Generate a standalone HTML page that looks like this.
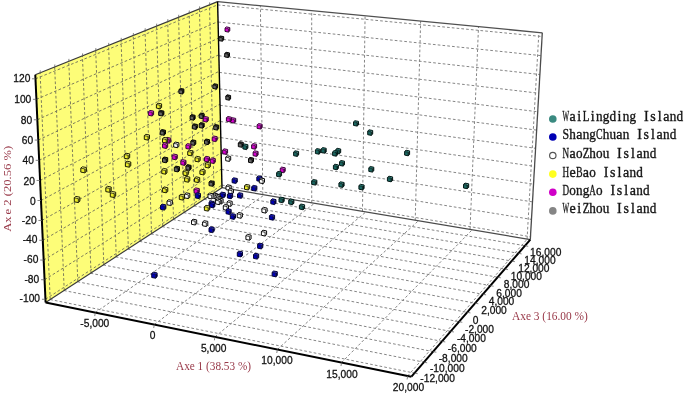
<!DOCTYPE html>
<html><head><meta charset="utf-8"><style>
html,body{margin:0;padding:0;background:#fff;}
svg{display:block;will-change:transform;}
.g{stroke:#858585;stroke-width:1;stroke-dasharray:2.7 2.1;fill:none;}
.gy{stroke:#7d7d5a;stroke-width:1;stroke-dasharray:2.7 2.1;fill:none;}
.e1{stroke:#3a3a3a;stroke-width:1.15;}
.e2{stroke:#4a4a4a;stroke-width:1.3;}
.e3{stroke:#000;stroke-width:2;}
.e4{stroke:#505050;stroke-width:1.3;}
.e5{stroke:#000;stroke-width:1.4;}
.tk{stroke:#666;stroke-width:0.8;}
.t{font-family:"Liberation Sans",sans-serif;font-size:11.5px;fill:#111;stroke:#111;stroke-width:0.3px;}
.at{font-family:"Liberation Serif",serif;font-size:12px;fill:#983848;}
.lgs{font-family:"Liberation Serif",serif;font-size:14px;fill:#151515;stroke:#151515;stroke-width:0.35px;}
.lg{font-family:"Liberation Mono",monospace;font-size:14.5px;fill:#151515;}
</style></head><body>
<svg width="685" height="394" viewBox="0 0 685 394">
<polygon points="45.60,302.50 35.30,74.80 217.60,1.60 222.00,187.70" fill="#fdfd78"/>
<line x1="50.22" y1="299.49" x2="40.10" y2="72.87" class="gy"/>
<line x1="50.16" y1="299.53" x2="414.52" y2="373.10" class="g"/>
<line x1="64.23" y1="290.37" x2="54.65" y2="67.03" class="gy"/>
<line x1="64.01" y1="290.52" x2="423.98" y2="362.19" class="g"/>
<line x1="77.83" y1="281.53" x2="68.75" y2="61.37" class="gy"/>
<line x1="77.47" y1="281.76" x2="433.16" y2="351.61" class="g"/>
<line x1="91.02" y1="272.94" x2="82.42" y2="55.88" class="gy"/>
<line x1="90.56" y1="273.24" x2="442.06" y2="341.35" class="g"/>
<line x1="103.83" y1="264.61" x2="95.69" y2="50.55" class="gy"/>
<line x1="103.30" y1="264.95" x2="450.70" y2="331.38" class="g"/>
<line x1="116.27" y1="256.51" x2="108.56" y2="45.38" class="gy"/>
<line x1="115.70" y1="256.88" x2="459.09" y2="321.71" class="g"/>
<line x1="128.37" y1="248.64" x2="121.07" y2="40.36" class="gy"/>
<line x1="127.77" y1="249.02" x2="467.25" y2="312.31" class="g"/>
<line x1="140.13" y1="240.98" x2="133.22" y2="35.48" class="gy"/>
<line x1="139.53" y1="241.37" x2="475.17" y2="303.17" class="g"/>
<line x1="151.56" y1="233.54" x2="145.03" y2="30.74" class="gy"/>
<line x1="150.99" y1="233.91" x2="482.88" y2="294.28" class="g"/>
<line x1="162.69" y1="226.30" x2="156.52" y2="26.13" class="gy"/>
<line x1="162.16" y1="226.65" x2="490.38" y2="285.64" class="g"/>
<line x1="173.52" y1="219.25" x2="167.69" y2="21.64" class="gy"/>
<line x1="173.04" y1="219.56" x2="497.67" y2="277.22" class="g"/>
<line x1="184.07" y1="212.39" x2="178.56" y2="17.28" class="gy"/>
<line x1="183.66" y1="212.65" x2="504.77" y2="269.04" class="g"/>
<line x1="194.34" y1="205.70" x2="189.14" y2="13.03" class="gy"/>
<line x1="194.02" y1="205.91" x2="511.69" y2="261.06" class="g"/>
<line x1="204.35" y1="199.19" x2="199.44" y2="8.89" class="gy"/>
<line x1="204.13" y1="199.33" x2="518.42" y2="253.29" class="g"/>
<line x1="214.11" y1="192.84" x2="209.48" y2="4.86" class="gy"/>
<line x1="214.00" y1="192.90" x2="524.99" y2="245.72" class="g"/>
<line x1="45.45" y1="299.28" x2="221.94" y2="185.05" class="gy"/>
<line x1="221.94" y1="185.12" x2="530.47" y2="236.75" class="g"/>
<line x1="44.57" y1="279.71" x2="221.56" y2="168.99" class="gy"/>
<line x1="221.57" y1="169.42" x2="531.47" y2="219.39" class="g"/>
<line x1="43.68" y1="260.05" x2="221.18" y2="152.86" class="gy"/>
<line x1="221.19" y1="153.58" x2="532.49" y2="201.87" class="g"/>
<line x1="42.79" y1="240.29" x2="220.79" y2="136.67" class="gy"/>
<line x1="220.82" y1="137.61" x2="533.52" y2="184.18" class="g"/>
<line x1="41.89" y1="220.44" x2="220.41" y2="120.41" class="gy"/>
<line x1="220.44" y1="121.52" x2="534.55" y2="166.33" class="g"/>
<line x1="40.99" y1="200.50" x2="220.02" y2="104.10" class="gy"/>
<line x1="220.05" y1="105.28" x2="535.60" y2="148.31" class="g"/>
<line x1="40.08" y1="180.46" x2="219.64" y2="87.72" class="gy"/>
<line x1="219.66" y1="88.91" x2="536.65" y2="130.12" class="g"/>
<line x1="39.17" y1="160.33" x2="219.25" y2="71.27" class="gy"/>
<line x1="219.27" y1="72.40" x2="537.72" y2="111.76" class="g"/>
<line x1="38.25" y1="140.09" x2="218.86" y2="54.77" class="gy"/>
<line x1="218.88" y1="55.75" x2="538.79" y2="93.23" class="g"/>
<line x1="37.33" y1="119.77" x2="218.47" y2="38.20" class="gy"/>
<line x1="218.48" y1="38.96" x2="539.88" y2="74.51" class="g"/>
<line x1="36.41" y1="99.34" x2="218.07" y2="21.56" class="gy"/>
<line x1="218.08" y1="22.03" x2="540.98" y2="55.62" class="g"/>
<line x1="35.48" y1="78.81" x2="217.68" y2="4.86" class="gy"/>
<line x1="217.68" y1="4.95" x2="542.08" y2="36.54" class="g"/>
<line x1="262.83" y1="194.57" x2="260.39" y2="5.71" class="g"/>
<line x1="95.31" y1="312.58" x2="264.46" y2="194.85" class="g"/>
<line x1="311.72" y1="202.80" x2="311.70" y2="10.64" class="g"/>
<line x1="154.30" y1="324.55" x2="314.62" y2="203.29" class="g"/>
<line x1="362.48" y1="211.35" x2="365.08" y2="15.77" class="g"/>
<line x1="214.96" y1="336.85" x2="365.93" y2="211.93" class="g"/>
<line x1="415.21" y1="220.23" x2="420.64" y2="21.11" class="g"/>
<line x1="277.36" y1="349.51" x2="418.44" y2="220.77" class="g"/>
<line x1="470.03" y1="229.45" x2="478.52" y2="26.67" class="g"/>
<line x1="341.58" y1="362.54" x2="472.18" y2="229.82" class="g"/>
<line x1="527.07" y1="239.06" x2="538.88" y2="32.47" class="g"/>
<line x1="407.68" y1="375.95" x2="527.21" y2="239.08" class="g"/>
<line x1="35.30" y1="74.80" x2="217.60" y2="1.60" class="e1"/>
<line x1="217.60" y1="1.60" x2="542.30" y2="32.80" class="e4"/>
<line x1="542.30" y1="32.80" x2="530.30" y2="239.60" class="e2"/>
<line x1="222.00" y1="187.70" x2="530.30" y2="239.60" class="e2"/>
<line x1="45.60" y1="302.50" x2="222.00" y2="187.70" class="e1"/>
<line x1="222.00" y1="187.70" x2="217.60" y2="1.60" class="e5"/>
<line x1="45.60" y1="302.50" x2="35.30" y2="74.80" class="e3"/>
<line x1="45.60" y1="302.50" x2="411.40" y2="376.70" class="e3"/>
<line x1="411.40" y1="376.70" x2="530.30" y2="239.60" class="e3"/>
<line x1="41.95" y1="299.28" x2="45.45" y2="299.28" class="tk"/>
<line x1="41.07" y1="279.71" x2="44.57" y2="279.71" class="tk"/>
<line x1="40.18" y1="260.05" x2="43.68" y2="260.05" class="tk"/>
<line x1="39.29" y1="240.29" x2="42.79" y2="240.29" class="tk"/>
<line x1="38.39" y1="220.44" x2="41.89" y2="220.44" class="tk"/>
<line x1="37.49" y1="200.50" x2="40.99" y2="200.50" class="tk"/>
<line x1="36.58" y1="180.46" x2="40.08" y2="180.46" class="tk"/>
<line x1="35.67" y1="160.33" x2="39.17" y2="160.33" class="tk"/>
<line x1="34.75" y1="140.09" x2="38.25" y2="140.09" class="tk"/>
<line x1="33.83" y1="119.77" x2="37.33" y2="119.77" class="tk"/>
<line x1="32.91" y1="99.34" x2="36.41" y2="99.34" class="tk"/>
<line x1="31.98" y1="78.81" x2="35.48" y2="78.81" class="tk"/>
<line x1="95.31" y1="312.58" x2="94.71" y2="316.08" class="tk"/>
<line x1="154.30" y1="324.55" x2="153.70" y2="328.05" class="tk"/>
<line x1="214.96" y1="336.85" x2="214.36" y2="340.35" class="tk"/>
<line x1="277.36" y1="349.51" x2="276.76" y2="353.01" class="tk"/>
<line x1="341.58" y1="362.54" x2="340.98" y2="366.04" class="tk"/>
<line x1="407.68" y1="375.95" x2="407.08" y2="379.45" class="tk"/>
<line x1="40.10" y1="72.87" x2="40.30" y2="70.37" class="tk"/>
<line x1="54.65" y1="67.03" x2="54.85" y2="64.53" class="tk"/>
<line x1="68.75" y1="61.37" x2="68.95" y2="58.87" class="tk"/>
<line x1="82.42" y1="55.88" x2="82.62" y2="53.38" class="tk"/>
<line x1="95.69" y1="50.55" x2="95.89" y2="48.05" class="tk"/>
<line x1="108.56" y1="45.38" x2="108.76" y2="42.88" class="tk"/>
<line x1="121.07" y1="40.36" x2="121.27" y2="37.86" class="tk"/>
<line x1="133.22" y1="35.48" x2="133.42" y2="32.98" class="tk"/>
<line x1="145.03" y1="30.74" x2="145.23" y2="28.24" class="tk"/>
<line x1="156.52" y1="26.13" x2="156.72" y2="23.63" class="tk"/>
<line x1="167.69" y1="21.64" x2="167.89" y2="19.14" class="tk"/>
<line x1="178.56" y1="17.28" x2="178.76" y2="14.78" class="tk"/>
<line x1="189.14" y1="13.03" x2="189.34" y2="10.53" class="tk"/>
<line x1="199.44" y1="8.89" x2="199.64" y2="6.39" class="tk"/>
<line x1="209.48" y1="4.86" x2="209.68" y2="2.36" class="tk"/>
<line x1="414.52" y1="373.10" x2="417.72" y2="373.70" class="tk"/>
<line x1="423.98" y1="362.19" x2="427.18" y2="362.79" class="tk"/>
<line x1="433.16" y1="351.61" x2="436.36" y2="352.21" class="tk"/>
<line x1="442.06" y1="341.35" x2="445.26" y2="341.95" class="tk"/>
<line x1="450.70" y1="331.38" x2="453.90" y2="331.98" class="tk"/>
<line x1="459.09" y1="321.71" x2="462.29" y2="322.31" class="tk"/>
<line x1="467.25" y1="312.31" x2="470.45" y2="312.91" class="tk"/>
<line x1="475.17" y1="303.17" x2="478.37" y2="303.77" class="tk"/>
<line x1="482.88" y1="294.28" x2="486.08" y2="294.88" class="tk"/>
<line x1="490.38" y1="285.64" x2="493.58" y2="286.24" class="tk"/>
<line x1="497.67" y1="277.22" x2="500.87" y2="277.82" class="tk"/>
<line x1="504.77" y1="269.04" x2="507.97" y2="269.64" class="tk"/>
<line x1="511.69" y1="261.06" x2="514.89" y2="261.66" class="tk"/>
<line x1="518.42" y1="253.29" x2="521.62" y2="253.89" class="tk"/>
<line x1="524.99" y1="245.72" x2="528.19" y2="246.32" class="tk"/>
<g><polygon points="225.0,31.4 228.4,32.1 228.4,28.7 225.0,28.1" fill="#d800d0"/><polygon points="228.4,32.1 229.8,30.9 229.8,27.6 228.4,28.7" fill="#680060"/><polygon points="225.0,28.1 228.4,28.7 229.8,27.6 226.4,26.9" fill="#f040f0"/><polygon points="225.0,31.4 228.4,32.1 229.8,30.9 229.8,27.6 226.4,26.9 225.0,28.1" fill="none" stroke="#300030" stroke-width="0.95"/><polyline points="225.0,28.1 228.4,28.7 228.4,32.1" fill="none" stroke="#300030" stroke-width="0.75"/></g>
<g><polygon points="218.9,40.6 222.3,41.2 222.3,37.8 218.9,37.2" fill="#646464"/><polygon points="222.3,41.2 223.7,40.0 223.7,36.6 222.3,37.8" fill="#0a0a0a"/><polygon points="218.9,37.2 222.3,37.8 223.7,36.6 220.3,36.0" fill="#2a2a2a"/><polygon points="218.9,40.6 222.3,41.2 223.7,40.0 223.7,36.6 220.3,36.0 218.9,37.2" fill="none" stroke="#000000" stroke-width="0.95"/><polyline points="218.9,37.2 222.3,37.8 222.3,41.2" fill="none" stroke="#000000" stroke-width="0.75"/></g>
<g><polygon points="224.7,56.9 228.1,57.5 228.1,54.1 224.7,53.5" fill="#646464"/><polygon points="228.1,57.5 229.5,56.3 229.5,52.9 228.1,54.1" fill="#0a0a0a"/><polygon points="224.7,53.5 228.1,54.1 229.5,52.9 226.1,52.3" fill="#2a2a2a"/><polygon points="224.7,56.9 228.1,57.5 229.5,56.3 229.5,52.9 226.1,52.3 224.7,53.5" fill="none" stroke="#000000" stroke-width="0.95"/><polyline points="224.7,53.5 228.1,54.1 228.1,57.5" fill="none" stroke="#000000" stroke-width="0.75"/></g>
<g><polygon points="353.5,125.4 357.1,126.1 357.1,122.6 353.5,121.9" fill="#1a6660"/><polygon points="357.1,126.1 358.5,124.9 358.5,121.4 357.1,122.6" fill="#062824"/><polygon points="353.5,121.9 357.1,122.6 358.5,121.4 354.9,120.7" fill="#2f8a82"/><polygon points="353.5,125.4 357.1,126.1 358.5,124.9 358.5,121.4 354.9,120.7 353.5,121.9" fill="none" stroke="#001412" stroke-width="0.95"/><polyline points="353.5,121.9 357.1,122.6 357.1,126.1" fill="none" stroke="#001412" stroke-width="0.75"/></g>
<g><polygon points="367.7,134.7 371.3,135.4 371.3,131.8 367.7,131.1" fill="#1a6660"/><polygon points="371.3,135.4 372.7,134.1 372.7,130.5 371.3,131.8" fill="#062824"/><polygon points="367.7,131.1 371.3,131.8 372.7,130.5 369.1,129.8" fill="#2f8a82"/><polygon points="367.7,134.7 371.3,135.4 372.7,134.1 372.7,130.5 369.1,129.8 367.7,131.1" fill="none" stroke="#001412" stroke-width="0.95"/><polyline points="367.7,131.1 371.3,131.8 371.3,135.4" fill="none" stroke="#001412" stroke-width="0.75"/></g>
<g><polygon points="212.8,88.4 216.2,89.1 216.2,85.6 212.8,84.9" fill="#646464"/><polygon points="216.2,89.1 217.6,87.9 217.6,84.4 216.2,85.6" fill="#0a0a0a"/><polygon points="212.8,84.9 216.2,85.6 217.6,84.4 214.2,83.7" fill="#2a2a2a"/><polygon points="212.8,88.4 216.2,89.1 217.6,87.9 217.6,84.4 214.2,83.7 212.8,84.9" fill="none" stroke="#000000" stroke-width="0.95"/><polyline points="212.8,84.9 216.2,85.6 216.2,89.1" fill="none" stroke="#000000" stroke-width="0.75"/></g>
<g><polygon points="225.8,99.5 229.2,100.2 229.2,96.7 225.8,96.0" fill="#646464"/><polygon points="229.2,100.2 230.6,99.0 230.6,95.5 229.2,96.7" fill="#0a0a0a"/><polygon points="225.8,96.0 229.2,96.7 230.6,95.5 227.2,94.8" fill="#2a2a2a"/><polygon points="225.8,99.5 229.2,100.2 230.6,99.0 230.6,95.5 227.2,94.8 225.8,96.0" fill="none" stroke="#000000" stroke-width="0.95"/><polyline points="225.8,96.0 229.2,96.7 229.2,100.2" fill="none" stroke="#000000" stroke-width="0.75"/></g>
<g><polygon points="404.6,155.1 408.2,155.8 408.2,152.2 404.6,151.5" fill="#1a6660"/><polygon points="408.2,155.8 409.6,154.5 409.6,150.9 408.2,152.2" fill="#062824"/><polygon points="404.6,151.5 408.2,152.2 409.6,150.9 406.0,150.2" fill="#2f8a82"/><polygon points="404.6,155.1 408.2,155.8 409.6,154.5 409.6,150.9 406.0,150.2 404.6,151.5" fill="none" stroke="#001412" stroke-width="0.95"/><polyline points="404.6,151.5 408.2,152.2 408.2,155.8" fill="none" stroke="#001412" stroke-width="0.75"/></g>
<g><polygon points="178.9,93.3 182.5,94.0 182.5,90.4 178.9,89.7" fill="#646464"/><polygon points="182.5,94.0 183.9,92.7 183.9,89.1 182.5,90.4" fill="#0a0a0a"/><polygon points="178.9,89.7 182.5,90.4 183.9,89.1 180.3,88.4" fill="#2a2a2a"/><polygon points="178.9,93.3 182.5,94.0 183.9,92.7 183.9,89.1 180.3,88.4 178.9,89.7" fill="none" stroke="#000000" stroke-width="0.95"/><polyline points="178.9,89.7 182.5,90.4 182.5,94.0" fill="none" stroke="#000000" stroke-width="0.75"/></g>
<g><polygon points="463.5,188.0 467.2,188.7 467.2,185.1 463.5,184.4" fill="#1a6660"/><polygon points="467.2,188.7 468.7,187.4 468.7,183.8 467.2,185.1" fill="#062824"/><polygon points="463.5,184.4 467.2,185.1 468.7,183.8 465.0,183.1" fill="#2f8a82"/><polygon points="463.5,188.0 467.2,188.7 468.7,187.4 468.7,183.8 465.0,183.1 463.5,184.4" fill="none" stroke="#001412" stroke-width="0.95"/><polyline points="463.5,184.4 467.2,185.1 467.2,188.7" fill="none" stroke="#001412" stroke-width="0.75"/></g>
<g><polygon points="257.1,128.4 260.7,129.0 260.7,125.5 257.1,124.8" fill="#d800d0"/><polygon points="260.7,129.0 262.1,127.8 262.1,124.2 260.7,125.5" fill="#680060"/><polygon points="257.1,124.8 260.7,125.5 262.1,124.2 258.5,123.6" fill="#f040f0"/><polygon points="257.1,128.4 260.7,129.0 262.1,127.8 262.1,124.2 258.5,123.6 257.1,124.8" fill="none" stroke="#300030" stroke-width="0.95"/><polyline points="257.1,124.8 260.7,125.5 260.7,129.0" fill="none" stroke="#300030" stroke-width="0.75"/></g>
<g><polygon points="335.7,153.2 339.3,153.9 339.3,150.3 335.7,149.6" fill="#1a6660"/><polygon points="339.3,153.9 340.7,152.6 340.7,149.0 339.3,150.3" fill="#062824"/><polygon points="335.7,149.6 339.3,150.3 340.7,149.0 337.1,148.3" fill="#2f8a82"/><polygon points="335.7,153.2 339.3,153.9 340.7,152.6 340.7,149.0 337.1,148.3 335.7,149.6" fill="none" stroke="#001412" stroke-width="0.95"/><polyline points="335.7,149.6 339.3,150.3 339.3,153.9" fill="none" stroke="#001412" stroke-width="0.75"/></g>
<g><polygon points="230.7,122.4 234.3,123.1 234.3,119.6 230.7,118.9" fill="#d800d0"/><polygon points="234.3,123.1 235.7,121.9 235.7,118.4 234.3,119.6" fill="#680060"/><polygon points="230.7,118.9 234.3,119.6 235.7,118.4 232.1,117.7" fill="#f040f0"/><polygon points="230.7,122.4 234.3,123.1 235.7,121.9 235.7,118.4 232.1,117.7 230.7,118.9" fill="none" stroke="#300030" stroke-width="0.95"/><polyline points="230.7,118.9 234.3,119.6 234.3,123.1" fill="none" stroke="#300030" stroke-width="0.75"/></g>
<g><polygon points="226.4,121.2 230.0,121.9 230.0,118.4 226.4,117.7" fill="#d800d0"/><polygon points="230.0,121.9 231.4,120.7 231.4,117.2 230.0,118.4" fill="#680060"/><polygon points="226.4,117.7 230.0,118.4 231.4,117.2 227.8,116.5" fill="#f040f0"/><polygon points="226.4,121.2 230.0,121.9 231.4,120.7 231.4,117.2 227.8,116.5 226.4,117.7" fill="none" stroke="#300030" stroke-width="0.95"/><polyline points="226.4,117.7 230.0,118.4 230.0,121.9" fill="none" stroke="#300030" stroke-width="0.75"/></g>
<g><polygon points="332.6,155.5 336.2,156.2 336.2,152.6 332.6,151.9" fill="#1a6660"/><polygon points="336.2,156.2 337.6,154.9 337.6,151.3 336.2,152.6" fill="#062824"/><polygon points="332.6,151.9 336.2,152.6 337.6,151.3 334.0,150.6" fill="#2f8a82"/><polygon points="332.6,155.5 336.2,156.2 337.6,154.9 337.6,151.3 334.0,150.6 332.6,151.9" fill="none" stroke="#001412" stroke-width="0.95"/><polyline points="332.6,151.9 336.2,152.6 336.2,156.2" fill="none" stroke="#001412" stroke-width="0.75"/></g>
<g><polygon points="321.2,152.5 324.8,153.2 324.8,149.6 321.2,148.9" fill="#1a6660"/><polygon points="324.8,153.2 326.2,151.9 326.2,148.3 324.8,149.6" fill="#062824"/><polygon points="321.2,148.9 324.8,149.6 326.2,148.3 322.6,147.6" fill="#2f8a82"/><polygon points="321.2,152.5 324.8,153.2 326.2,151.9 326.2,148.3 322.6,147.6 321.2,148.9" fill="none" stroke="#001412" stroke-width="0.95"/><polyline points="321.2,148.9 324.8,149.6 324.8,153.2" fill="none" stroke="#001412" stroke-width="0.75"/></g>
<g><polygon points="199.2,118.0 202.8,118.7 202.8,115.1 199.2,114.4" fill="#646464"/><polygon points="202.8,118.7 204.2,117.4 204.2,113.8 202.8,115.1" fill="#0a0a0a"/><polygon points="199.2,114.4 202.8,115.1 204.2,113.8 200.6,113.1" fill="#2a2a2a"/><polygon points="199.2,118.0 202.8,118.7 204.2,117.4 204.2,113.8 200.6,113.1 199.2,114.4" fill="none" stroke="#000000" stroke-width="0.95"/><polyline points="199.2,114.4 202.8,115.1 202.8,118.7" fill="none" stroke="#000000" stroke-width="0.75"/></g>
<g><polygon points="315.4,153.5 319.0,154.2 319.0,150.6 315.4,149.9" fill="#1a6660"/><polygon points="319.0,154.2 320.4,152.9 320.4,149.3 319.0,150.6" fill="#062824"/><polygon points="315.4,149.9 319.0,150.6 320.4,149.3 316.8,148.6" fill="#2f8a82"/><polygon points="315.4,153.5 319.0,154.2 320.4,152.9 320.4,149.3 316.8,148.6 315.4,149.9" fill="none" stroke="#001412" stroke-width="0.95"/><polyline points="315.4,149.9 319.0,150.6 319.0,154.2" fill="none" stroke="#001412" stroke-width="0.75"/></g>
<g><polygon points="203.3,121.4 206.9,122.1 206.9,118.5 203.3,117.8" fill="#d800d0"/><polygon points="206.9,122.1 208.3,120.8 208.3,117.2 206.9,118.5" fill="#680060"/><polygon points="203.3,117.8 206.9,118.5 208.3,117.2 204.7,116.5" fill="#f040f0"/><polygon points="203.3,121.4 206.9,122.1 208.3,120.8 208.3,117.2 204.7,116.5 203.3,117.8" fill="none" stroke="#300030" stroke-width="0.95"/><polyline points="203.3,117.8 206.9,118.5 206.9,122.1" fill="none" stroke="#300030" stroke-width="0.75"/></g>
<g><polygon points="368.8,171.4 372.4,172.1 372.4,168.5 368.8,167.8" fill="#1a6660"/><polygon points="372.4,172.1 373.8,170.8 373.8,167.2 372.4,168.5" fill="#062824"/><polygon points="368.8,167.8 372.4,168.5 373.8,167.2 370.2,166.5" fill="#2f8a82"/><polygon points="368.8,171.4 372.4,172.1 373.8,170.8 373.8,167.2 370.2,166.5 368.8,167.8" fill="none" stroke="#001412" stroke-width="0.95"/><polyline points="368.8,167.8 372.4,168.5 372.4,172.1" fill="none" stroke="#001412" stroke-width="0.75"/></g>
<g><polygon points="156.4,108.1 160.1,108.8 160.1,105.2 156.4,104.5" fill="#ecec28"/><polygon points="160.1,108.8 161.6,107.5 161.6,103.9 160.1,105.2" fill="#929228"/><polygon points="156.4,104.5 160.1,105.2 161.6,103.9 157.9,103.2" fill="#ffff88"/><polygon points="156.4,108.1 160.1,108.8 161.6,107.5 161.6,103.9 157.9,103.2 156.4,104.5" fill="none" stroke="#141400" stroke-width="0.95"/><polyline points="156.4,104.5 160.1,105.2 160.1,108.8" fill="none" stroke="#141400" stroke-width="0.75"/></g>
<g><polygon points="190.1,119.5 193.7,120.2 193.7,116.6 190.1,115.9" fill="#646464"/><polygon points="193.7,120.2 195.1,118.9 195.1,115.3 193.7,116.6" fill="#0a0a0a"/><polygon points="190.1,115.9 193.7,116.6 195.1,115.3 191.5,114.6" fill="#2a2a2a"/><polygon points="190.1,119.5 193.7,120.2 195.1,118.9 195.1,115.3 191.5,114.6 190.1,115.9" fill="none" stroke="#000000" stroke-width="0.95"/><polyline points="190.1,115.9 193.7,116.6 193.7,120.2" fill="none" stroke="#000000" stroke-width="0.75"/></g>
<g><polygon points="339.5,165.4 343.1,166.1 343.1,162.5 339.5,161.8" fill="#1a6660"/><polygon points="343.1,166.1 344.5,164.8 344.5,161.2 343.1,162.5" fill="#062824"/><polygon points="339.5,161.8 343.1,162.5 344.5,161.2 340.9,160.5" fill="#2f8a82"/><polygon points="339.5,165.4 343.1,166.1 344.5,164.8 344.5,161.2 340.9,160.5 339.5,161.8" fill="none" stroke="#001412" stroke-width="0.95"/><polyline points="339.5,161.8 343.1,162.5 343.1,166.1" fill="none" stroke="#001412" stroke-width="0.75"/></g>
<g><polygon points="387.4,181.1 391.1,181.8 391.1,178.2 387.4,177.5" fill="#1a6660"/><polygon points="391.1,181.8 392.6,180.5 392.6,176.9 391.1,178.2" fill="#062824"/><polygon points="387.4,177.5 391.1,178.2 392.6,176.9 388.9,176.2" fill="#2f8a82"/><polygon points="387.4,181.1 391.1,181.8 392.6,180.5 392.6,176.9 388.9,176.2 387.4,177.5" fill="none" stroke="#001412" stroke-width="0.95"/><polyline points="387.4,177.5 391.1,178.2 391.1,181.8" fill="none" stroke="#001412" stroke-width="0.75"/></g>
<g><polygon points="213.7,129.4 217.3,130.1 217.3,126.5 213.7,125.8" fill="#646464"/><polygon points="217.3,130.1 218.7,128.8 218.7,125.2 217.3,126.5" fill="#0a0a0a"/><polygon points="213.7,125.8 217.3,126.5 218.7,125.2 215.1,124.5" fill="#2a2a2a"/><polygon points="213.7,129.4 217.3,130.1 218.7,128.8 218.7,125.2 215.1,124.5 213.7,125.8" fill="none" stroke="#000000" stroke-width="0.95"/><polyline points="213.7,125.8 217.3,126.5 217.3,130.1" fill="none" stroke="#000000" stroke-width="0.75"/></g>
<g><polygon points="293.6,155.7 297.2,156.4 297.2,152.8 293.6,152.1" fill="#1a6660"/><polygon points="297.2,156.4 298.6,155.1 298.6,151.5 297.2,152.8" fill="#062824"/><polygon points="293.6,152.1 297.2,152.8 298.6,151.5 295.0,150.8" fill="#2f8a82"/><polygon points="293.6,155.7 297.2,156.4 298.6,155.1 298.6,151.5 295.0,150.8 293.6,152.1" fill="none" stroke="#001412" stroke-width="0.95"/><polyline points="293.6,152.1 297.2,152.8 297.2,156.4" fill="none" stroke="#001412" stroke-width="0.75"/></g>
<g><polygon points="158.7,115.3 162.4,116.0 162.4,112.4 158.7,111.7" fill="#646464"/><polygon points="162.4,116.0 163.9,114.7 163.9,111.1 162.4,112.4" fill="#0a0a0a"/><polygon points="158.7,111.7 162.4,112.4 163.9,111.1 160.2,110.4" fill="#2a2a2a"/><polygon points="158.7,115.3 162.4,116.0 163.9,114.7 163.9,111.1 160.2,110.4 158.7,111.7" fill="none" stroke="#000000" stroke-width="0.95"/><polyline points="158.7,111.7 162.4,112.4 162.4,116.0" fill="none" stroke="#000000" stroke-width="0.75"/></g>
<g><polygon points="199.2,127.5 202.8,128.2 202.8,124.6 199.2,123.9" fill="#646464"/><polygon points="202.8,128.2 204.2,126.9 204.2,123.3 202.8,124.6" fill="#0a0a0a"/><polygon points="199.2,123.9 202.8,124.6 204.2,123.3 200.6,122.6" fill="#2a2a2a"/><polygon points="199.2,127.5 202.8,128.2 204.2,126.9 204.2,123.3 200.6,122.6 199.2,123.9" fill="none" stroke="#000000" stroke-width="0.95"/><polyline points="199.2,123.9 202.8,124.6 202.8,128.2" fill="none" stroke="#000000" stroke-width="0.75"/></g>
<g><polygon points="333.4,169.1 337.0,169.8 337.0,166.2 333.4,165.5" fill="#1a6660"/><polygon points="337.0,169.8 338.4,168.5 338.4,164.9 337.0,166.2" fill="#062824"/><polygon points="333.4,165.5 337.0,166.2 338.4,164.9 334.8,164.2" fill="#2f8a82"/><polygon points="333.4,169.1 337.0,169.8 338.4,168.5 338.4,164.9 334.8,164.2 333.4,165.5" fill="none" stroke="#001412" stroke-width="0.95"/><polyline points="333.4,165.5 337.0,166.2 337.0,169.8" fill="none" stroke="#001412" stroke-width="0.75"/></g>
<g><polygon points="148.4,115.3 152.1,116.0 152.1,112.4 148.4,111.7" fill="#d800d0"/><polygon points="152.1,116.0 153.6,114.7 153.6,111.1 152.1,112.4" fill="#680060"/><polygon points="148.4,111.7 152.1,112.4 153.6,111.1 149.9,110.4" fill="#f040f0"/><polygon points="148.4,115.3 152.1,116.0 153.6,114.7 153.6,111.1 149.9,110.4 148.4,111.7" fill="none" stroke="#300030" stroke-width="0.95"/><polyline points="148.4,111.7 152.1,112.4 152.1,116.0" fill="none" stroke="#300030" stroke-width="0.75"/></g>
<g><polygon points="192.4,128.7 196.0,129.4 196.0,125.8 192.4,125.1" fill="#646464"/><polygon points="196.0,129.4 197.4,128.1 197.4,124.5 196.0,125.8" fill="#0a0a0a"/><polygon points="192.4,125.1 196.0,125.8 197.4,124.5 193.8,123.8" fill="#2a2a2a"/><polygon points="192.4,128.7 196.0,129.4 197.4,128.1 197.4,124.5 193.8,123.8 192.4,125.1" fill="none" stroke="#000000" stroke-width="0.95"/><polyline points="192.4,125.1 196.0,125.8 196.0,129.4" fill="none" stroke="#000000" stroke-width="0.75"/></g>
<g><polygon points="251.6,148.5 255.2,149.2 255.2,145.6 251.6,144.9" fill="#d800d0"/><polygon points="255.2,149.2 256.6,147.9 256.6,144.3 255.2,145.6" fill="#680060"/><polygon points="251.6,144.9 255.2,145.6 256.6,144.3 253.0,143.6" fill="#f040f0"/><polygon points="251.6,148.5 255.2,149.2 256.6,147.9 256.6,144.3 253.0,143.6 251.6,144.9" fill="none" stroke="#300030" stroke-width="0.95"/><polyline points="251.6,144.9 255.2,145.6 255.2,149.2" fill="none" stroke="#300030" stroke-width="0.75"/></g>
<g><polygon points="238.3,146.6 241.9,147.3 241.9,143.7 238.3,143.0" fill="#646464"/><polygon points="241.9,147.3 243.3,146.0 243.3,142.4 241.9,143.7" fill="#0a0a0a"/><polygon points="238.3,143.0 241.9,143.7 243.3,142.4 239.7,141.7" fill="#2a2a2a"/><polygon points="238.3,146.6 241.9,147.3 243.3,146.0 243.3,142.4 239.7,141.7 238.3,143.0" fill="none" stroke="#000000" stroke-width="0.95"/><polyline points="238.3,143.0 241.9,143.7 241.9,147.3" fill="none" stroke="#000000" stroke-width="0.75"/></g>
<g><polygon points="242.9,148.9 246.5,149.6 246.5,146.0 242.9,145.3" fill="#1a6660"/><polygon points="246.5,149.6 247.9,148.3 247.9,144.7 246.5,146.0" fill="#062824"/><polygon points="242.9,145.3 246.5,146.0 247.9,144.7 244.3,144.0" fill="#2f8a82"/><polygon points="242.9,148.9 246.5,149.6 247.9,148.3 247.9,144.7 244.3,144.0 242.9,145.3" fill="none" stroke="#001412" stroke-width="0.95"/><polyline points="242.9,145.3 246.5,146.0 246.5,149.6" fill="none" stroke="#001412" stroke-width="0.75"/></g>
<g><polygon points="212.2,140.9 215.8,141.6 215.8,138.0 212.2,137.3" fill="#d800d0"/><polygon points="215.8,141.6 217.2,140.3 217.2,136.7 215.8,138.0" fill="#680060"/><polygon points="212.2,137.3 215.8,138.0 217.2,136.7 213.6,136.0" fill="#f040f0"/><polygon points="212.2,140.9 215.8,141.6 217.2,140.3 217.2,136.7 213.6,136.0 212.2,137.3" fill="none" stroke="#300030" stroke-width="0.95"/><polyline points="212.2,137.3 215.8,138.0 215.8,141.6" fill="none" stroke="#300030" stroke-width="0.75"/></g>
<g><polygon points="253.1,155.7 256.7,156.4 256.7,152.8 253.1,152.1" fill="#d800d0"/><polygon points="256.7,156.4 258.1,155.1 258.1,151.5 256.7,152.8" fill="#680060"/><polygon points="253.1,152.1 256.7,152.8 258.1,151.5 254.5,150.8" fill="#f040f0"/><polygon points="253.1,155.7 256.7,156.4 258.1,155.1 258.1,151.5 254.5,150.8 253.1,152.1" fill="none" stroke="#300030" stroke-width="0.95"/><polyline points="253.1,152.1 256.7,152.8 256.7,156.4" fill="none" stroke="#300030" stroke-width="0.75"/></g>
<g><polygon points="358.9,189.2 362.6,189.9 362.6,186.3 358.9,185.6" fill="#1a6660"/><polygon points="362.6,189.9 364.1,188.6 364.1,185.0 362.6,186.3" fill="#062824"/><polygon points="358.9,185.6 362.6,186.3 364.1,185.0 360.4,184.3" fill="#2f8a82"/><polygon points="358.9,189.2 362.6,189.9 364.1,188.6 364.1,185.0 360.4,184.3 358.9,185.6" fill="none" stroke="#001412" stroke-width="0.95"/><polyline points="358.9,185.6 362.6,186.3 362.6,189.9" fill="none" stroke="#001412" stroke-width="0.75"/></g>
<g><polygon points="204.5,143.9 208.1,144.6 208.1,141.0 204.5,140.3" fill="#646464"/><polygon points="208.1,144.6 209.5,143.3 209.5,139.7 208.1,141.0" fill="#0a0a0a"/><polygon points="204.5,140.3 208.1,141.0 209.5,139.7 205.9,139.0" fill="#2a2a2a"/><polygon points="204.5,143.9 208.1,144.6 209.5,143.3 209.5,139.7 205.9,139.0 204.5,140.3" fill="none" stroke="#000000" stroke-width="0.95"/><polyline points="204.5,140.3 208.1,141.0 208.1,144.6" fill="none" stroke="#000000" stroke-width="0.75"/></g>
<g><polygon points="338.9,186.7 342.6,187.4 342.6,183.8 338.9,183.1" fill="#1a6660"/><polygon points="342.6,187.4 344.1,186.1 344.1,182.5 342.6,183.8" fill="#062824"/><polygon points="338.9,183.1 342.6,183.8 344.1,182.5 340.4,181.8" fill="#2f8a82"/><polygon points="338.9,186.7 342.6,187.4 344.1,186.1 344.1,182.5 340.4,181.8 338.9,183.1" fill="none" stroke="#001412" stroke-width="0.95"/><polyline points="338.9,183.1 342.6,183.8 342.6,187.4" fill="none" stroke="#001412" stroke-width="0.75"/></g>
<g><polygon points="160.3,134.5 164.0,135.3 164.0,131.6 160.3,130.9" fill="#646464"/><polygon points="164.0,135.3 165.5,133.9 165.5,130.3 164.0,131.6" fill="#0a0a0a"/><polygon points="160.3,130.9 164.0,131.6 165.5,130.3 161.8,129.5" fill="#2a2a2a"/><polygon points="160.3,134.5 164.0,135.3 165.5,133.9 165.5,130.3 161.8,129.5 160.3,130.9" fill="none" stroke="#000000" stroke-width="0.95"/><polyline points="160.3,130.9 164.0,131.6 164.0,135.3" fill="none" stroke="#000000" stroke-width="0.75"/></g>
<g><polygon points="222.6,153.7 226.2,154.4 226.2,150.8 222.6,150.1" fill="#d800d0"/><polygon points="226.2,154.4 227.6,153.1 227.6,149.5 226.2,150.8" fill="#680060"/><polygon points="222.6,150.1 226.2,150.8 227.6,149.5 224.0,148.8" fill="#f040f0"/><polygon points="222.6,153.7 226.2,154.4 227.6,153.1 227.6,149.5 224.0,148.8 222.6,150.1" fill="none" stroke="#300030" stroke-width="0.95"/><polyline points="222.6,150.1 226.2,150.8 226.2,154.4" fill="none" stroke="#300030" stroke-width="0.75"/></g>
<g><polygon points="190.8,144.7 194.4,145.4 194.4,141.8 190.8,141.1" fill="#646464"/><polygon points="194.4,145.4 195.8,144.1 195.8,140.5 194.4,141.8" fill="#0a0a0a"/><polygon points="190.8,141.1 194.4,141.8 195.8,140.5 192.2,139.8" fill="#2a2a2a"/><polygon points="190.8,144.7 194.4,145.4 195.8,144.1 195.8,140.5 192.2,139.8 190.8,141.1" fill="none" stroke="#000000" stroke-width="0.95"/><polyline points="190.8,141.1 194.4,141.8 194.4,145.4" fill="none" stroke="#000000" stroke-width="0.75"/></g>
<g><polygon points="248.5,162.3 252.1,163.0 252.1,159.4 248.5,158.7" fill="#646464"/><polygon points="252.1,163.0 253.5,161.7 253.5,158.1 252.1,159.4" fill="#0a0a0a"/><polygon points="248.5,158.7 252.1,159.4 253.5,158.1 249.9,157.4" fill="#2a2a2a"/><polygon points="248.5,162.3 252.1,163.0 253.5,161.7 253.5,158.1 249.9,157.4 248.5,158.7" fill="none" stroke="#000000" stroke-width="0.95"/><polyline points="248.5,158.7 252.1,159.4 252.1,163.0" fill="none" stroke="#000000" stroke-width="0.75"/></g>
<g><polygon points="280.2,172.0 283.8,172.7 283.8,169.1 280.2,168.4" fill="#d800d0"/><polygon points="283.8,172.7 285.2,171.4 285.2,167.8 283.8,169.1" fill="#680060"/><polygon points="280.2,168.4 283.8,169.1 285.2,167.8 281.6,167.1" fill="#f040f0"/><polygon points="280.2,172.0 283.8,172.7 285.2,171.4 285.2,167.8 281.6,167.1 280.2,168.4" fill="none" stroke="#300030" stroke-width="0.95"/><polyline points="280.2,168.4 283.8,169.1 283.8,172.7" fill="none" stroke="#300030" stroke-width="0.75"/></g>
<g><polygon points="311.7,184.4 315.4,185.1 315.4,181.5 311.7,180.8" fill="#1a6660"/><polygon points="315.4,185.1 316.9,183.8 316.9,180.2 315.4,181.5" fill="#062824"/><polygon points="311.7,180.8 315.4,181.5 316.9,180.2 313.2,179.5" fill="#2f8a82"/><polygon points="311.7,184.4 315.4,185.1 316.9,183.8 316.9,180.2 313.2,179.5 311.7,180.8" fill="none" stroke="#001412" stroke-width="0.95"/><polyline points="311.7,180.8 315.4,181.5 315.4,185.1" fill="none" stroke="#001412" stroke-width="0.75"/></g>
<g><polygon points="165.6,142.4 169.3,143.2 169.3,139.5 165.6,138.7" fill="#d800d0"/><polygon points="169.3,143.2 170.8,141.9 170.8,138.2 169.3,139.5" fill="#680060"/><polygon points="165.6,138.7 169.3,139.5 170.8,138.2 167.1,137.4" fill="#f040f0"/><polygon points="165.6,142.4 169.3,143.2 170.8,141.9 170.8,138.2 167.1,137.4 165.6,138.7" fill="none" stroke="#300030" stroke-width="0.95"/><polyline points="165.6,138.7 169.3,139.5 169.3,143.2" fill="none" stroke="#300030" stroke-width="0.75"/></g>
<g><polygon points="185.9,148.5 189.6,149.2 189.6,145.6 185.9,144.9" fill="#d800d0"/><polygon points="189.6,149.2 191.1,147.9 191.1,144.3 189.6,145.6" fill="#680060"/><polygon points="185.9,144.9 189.6,145.6 191.1,144.3 187.4,143.6" fill="#f040f0"/><polygon points="185.9,148.5 189.6,149.2 191.1,147.9 191.1,144.3 187.4,143.6 185.9,144.9" fill="none" stroke="#300030" stroke-width="0.95"/><polyline points="185.9,144.9 189.6,145.6 189.6,149.2" fill="none" stroke="#300030" stroke-width="0.75"/></g>
<g><polygon points="225.7,160.7 229.3,161.4 229.3,157.8 225.7,157.1" fill="#ffffff"/><polygon points="229.3,161.4 230.7,160.1 230.7,156.5 229.3,157.8" fill="#dcdcdc"/><polygon points="225.7,157.1 229.3,157.8 230.7,156.5 227.1,155.8" fill="#f2f2f2"/><polygon points="225.7,160.7 229.3,161.4 230.7,160.1 230.7,156.5 227.1,155.8 225.7,157.1" fill="none" stroke="#000000" stroke-width="0.95"/><polyline points="225.7,157.1 229.3,157.8 229.3,161.4" fill="none" stroke="#000000" stroke-width="0.75"/></g>
<g><polygon points="276.6,176.3 280.2,177.0 280.2,173.4 276.6,172.7" fill="#1a6660"/><polygon points="280.2,177.0 281.6,175.7 281.6,172.1 280.2,173.4" fill="#062824"/><polygon points="276.6,172.7 280.2,173.4 281.6,172.1 278.0,171.4" fill="#2f8a82"/><polygon points="276.6,176.3 280.2,177.0 281.6,175.7 281.6,172.1 278.0,171.4 276.6,172.7" fill="none" stroke="#001412" stroke-width="0.95"/><polyline points="276.6,172.7 280.2,173.4 280.2,177.0" fill="none" stroke="#001412" stroke-width="0.75"/></g>
<g><polygon points="162.5,142.4 166.2,143.2 166.2,139.5 162.5,138.7" fill="#ecec28"/><polygon points="166.2,143.2 167.7,141.9 167.7,138.2 166.2,139.5" fill="#929228"/><polygon points="162.5,138.7 166.2,139.5 167.7,138.2 164.0,137.4" fill="#ffff88"/><polygon points="162.5,142.4 166.2,143.2 167.7,141.9 167.7,138.2 164.0,137.4 162.5,138.7" fill="none" stroke="#141400" stroke-width="0.95"/><polyline points="162.5,138.7 166.2,139.5 166.2,143.2" fill="none" stroke="#141400" stroke-width="0.75"/></g>
<g><polygon points="173.7,147.0 177.4,147.7 177.4,144.1 173.7,143.4" fill="#ffffff"/><polygon points="177.4,147.7 178.9,146.4 178.9,142.8 177.4,144.1" fill="#dcdcdc"/><polygon points="173.7,143.4 177.4,144.1 178.9,142.8 175.2,142.1" fill="#f2f2f2"/><polygon points="173.7,147.0 177.4,147.7 178.9,146.4 178.9,142.8 175.2,142.1 173.7,143.4" fill="none" stroke="#000000" stroke-width="0.95"/><polyline points="173.7,143.4 177.4,144.1 177.4,147.7" fill="none" stroke="#000000" stroke-width="0.75"/></g>
<g><polygon points="144.3,139.4 148.0,140.1 148.0,136.4 144.3,135.6" fill="#ecec28"/><polygon points="148.0,140.1 149.5,138.8 149.5,135.0 148.0,136.4" fill="#929228"/><polygon points="144.3,135.6 148.0,136.4 149.5,135.0 145.8,134.3" fill="#ffff88"/><polygon points="144.3,139.4 148.0,140.1 149.5,138.8 149.5,135.0 145.8,134.3 144.3,135.6" fill="none" stroke="#141400" stroke-width="0.95"/><polyline points="144.3,135.6 148.0,136.4 148.0,140.1" fill="none" stroke="#141400" stroke-width="0.75"/></g>
<g><polygon points="187.7,155.1 191.4,155.8 191.4,152.2 187.7,151.5" fill="#ecec28"/><polygon points="191.4,155.8 192.9,154.5 192.9,150.9 191.4,152.2" fill="#929228"/><polygon points="187.7,151.5 191.4,152.2 192.9,150.9 189.2,150.2" fill="#ffff88"/><polygon points="187.7,155.1 191.4,155.8 192.9,154.5 192.9,150.9 189.2,150.2 187.7,151.5" fill="none" stroke="#141400" stroke-width="0.95"/><polyline points="187.7,151.5 191.4,152.2 191.4,155.8" fill="none" stroke="#141400" stroke-width="0.75"/></g>
<g><polygon points="162.5,147.7 166.2,148.5 166.2,144.8 162.5,144.0" fill="#d800d0"/><polygon points="166.2,148.5 167.7,147.2 167.7,143.5 166.2,144.8" fill="#680060"/><polygon points="162.5,144.0 166.2,144.8 167.7,143.5 164.0,142.7" fill="#f040f0"/><polygon points="162.5,147.7 166.2,148.5 167.7,147.2 167.7,143.5 164.0,142.7 162.5,144.0" fill="none" stroke="#300030" stroke-width="0.95"/><polyline points="162.5,144.0 166.2,144.8 166.2,148.5" fill="none" stroke="#300030" stroke-width="0.75"/></g>
<g><polygon points="210.3,162.8 213.9,163.5 213.9,159.9 210.3,159.2" fill="#d800d0"/><polygon points="213.9,163.5 215.3,162.2 215.3,158.6 213.9,159.9" fill="#680060"/><polygon points="210.3,159.2 213.9,159.9 215.3,158.6 211.7,157.9" fill="#f040f0"/><polygon points="210.3,162.8 213.9,163.5 215.3,162.2 215.3,158.6 211.7,157.9 210.3,159.2" fill="none" stroke="#300030" stroke-width="0.95"/><polyline points="210.3,159.2 213.9,159.9 213.9,163.5" fill="none" stroke="#300030" stroke-width="0.75"/></g>
<g><polygon points="204.5,161.2 208.1,161.9 208.1,158.3 204.5,157.6" fill="#d800d0"/><polygon points="208.1,161.9 209.5,160.6 209.5,157.0 208.1,158.3" fill="#680060"/><polygon points="204.5,157.6 208.1,158.3 209.5,157.0 205.9,156.3" fill="#f040f0"/><polygon points="204.5,161.2 208.1,161.9 209.5,160.6 209.5,157.0 205.9,156.3 204.5,157.6" fill="none" stroke="#300030" stroke-width="0.95"/><polyline points="204.5,157.6 208.1,158.3 208.1,161.9" fill="none" stroke="#300030" stroke-width="0.75"/></g>
<g><polygon points="195.0,161.2 198.7,161.9 198.7,158.3 195.0,157.6" fill="#ecec28"/><polygon points="198.7,161.9 200.2,160.6 200.2,157.0 198.7,158.3" fill="#929228"/><polygon points="195.0,157.6 198.7,158.3 200.2,157.0 196.5,156.3" fill="#ffff88"/><polygon points="195.0,161.2 198.7,161.9 200.2,160.6 200.2,157.0 196.5,156.3 195.0,157.6" fill="none" stroke="#141400" stroke-width="0.95"/><polyline points="195.0,157.6 198.7,158.3 198.7,161.9" fill="none" stroke="#141400" stroke-width="0.75"/></g>
<g><polygon points="256.8,180.8 260.5,181.5 260.5,177.9 256.8,177.2" fill="#0000b8"/><polygon points="260.5,181.5 262.0,180.2 262.0,176.6 260.5,177.9" fill="#00005a"/><polygon points="256.8,177.2 260.5,177.9 262.0,176.6 258.3,175.9" fill="#1e1ed8"/><polygon points="256.8,180.8 260.5,181.5 262.0,180.2 262.0,176.6 258.3,175.9 256.8,177.2" fill="none" stroke="#000030" stroke-width="0.95"/><polyline points="256.8,177.2 260.5,177.9 260.5,181.5" fill="none" stroke="#000030" stroke-width="0.75"/></g>
<g><polygon points="259.3,182.9 263.0,183.6 263.0,180.0 259.3,179.3" fill="#ffffff"/><polygon points="263.0,183.6 264.5,182.3 264.5,178.7 263.0,180.0" fill="#dcdcdc"/><polygon points="259.3,179.3 263.0,180.0 264.5,178.7 260.8,178.0" fill="#f2f2f2"/><polygon points="259.3,182.9 263.0,183.6 264.5,182.3 264.5,178.7 260.8,178.0 259.3,179.3" fill="none" stroke="#000000" stroke-width="0.95"/><polyline points="259.3,179.3 263.0,180.0 263.0,183.6" fill="none" stroke="#000000" stroke-width="0.75"/></g>
<g><polygon points="205.2,167.3 208.9,168.0 208.9,164.4 205.2,163.7" fill="#ecec28"/><polygon points="208.9,168.0 210.4,166.7 210.4,163.1 208.9,164.4" fill="#929228"/><polygon points="205.2,163.7 208.9,164.4 210.4,163.1 206.7,162.4" fill="#ffff88"/><polygon points="205.2,167.3 208.9,168.0 210.4,166.7 210.4,163.1 206.7,162.4 205.2,163.7" fill="none" stroke="#141400" stroke-width="0.95"/><polyline points="205.2,163.7 208.9,164.4 208.9,168.0" fill="none" stroke="#141400" stroke-width="0.75"/></g>
<g><polygon points="172.1,159.0 175.8,159.8 175.8,156.1 172.1,155.3" fill="#d800d0"/><polygon points="175.8,159.8 177.3,158.5 177.3,154.8 175.8,156.1" fill="#680060"/><polygon points="172.1,155.3 175.8,156.1 177.3,154.8 173.6,154.0" fill="#f040f0"/><polygon points="172.1,159.0 175.8,159.8 177.3,158.5 177.3,154.8 173.6,154.0 172.1,155.3" fill="none" stroke="#300030" stroke-width="0.95"/><polyline points="172.1,155.3 175.8,156.1 175.8,159.8" fill="none" stroke="#300030" stroke-width="0.75"/></g>
<g><polygon points="180.8,164.6 184.5,165.4 184.5,161.7 180.8,160.9" fill="#d800d0"/><polygon points="184.5,165.4 186.0,164.1 186.0,160.4 184.5,161.7" fill="#680060"/><polygon points="180.8,160.9 184.5,161.7 186.0,160.4 182.3,159.6" fill="#f040f0"/><polygon points="180.8,164.6 184.5,165.4 186.0,164.1 186.0,160.4 182.3,159.6 180.8,160.9" fill="none" stroke="#300030" stroke-width="0.95"/><polyline points="180.8,160.9 184.5,161.7 184.5,165.4" fill="none" stroke="#300030" stroke-width="0.75"/></g>
<g><polygon points="232.1,182.7 235.8,183.4 235.8,179.8 232.1,179.1" fill="#0000b8"/><polygon points="235.8,183.4 237.3,182.1 237.3,178.5 235.8,179.8" fill="#00005a"/><polygon points="232.1,179.1 235.8,179.8 237.3,178.5 233.6,177.8" fill="#1e1ed8"/><polygon points="232.1,182.7 235.8,183.4 237.3,182.1 237.3,178.5 233.6,177.8 232.1,179.1" fill="none" stroke="#000030" stroke-width="0.95"/><polyline points="232.1,179.1 235.8,179.8 235.8,183.4" fill="none" stroke="#000030" stroke-width="0.75"/></g>
<g><polygon points="162.5,162.1 166.2,162.8 166.2,159.1 162.5,158.3" fill="#646464"/><polygon points="166.2,162.8 167.7,161.5 167.7,157.7 166.2,159.1" fill="#0a0a0a"/><polygon points="162.5,158.3 166.2,159.1 167.7,157.7 164.0,157.0" fill="#2a2a2a"/><polygon points="162.5,162.1 166.2,162.8 167.7,161.5 167.7,157.7 164.0,157.0 162.5,158.3" fill="none" stroke="#000000" stroke-width="0.95"/><polyline points="162.5,158.3 166.2,159.1 166.2,162.8" fill="none" stroke="#000000" stroke-width="0.75"/></g>
<g><polygon points="185.9,169.6 189.6,170.4 189.6,166.7 185.9,165.9" fill="#646464"/><polygon points="189.6,170.4 191.1,169.1 191.1,165.4 189.6,166.7" fill="#0a0a0a"/><polygon points="185.9,165.9 189.6,166.7 191.1,165.4 187.4,164.6" fill="#2a2a2a"/><polygon points="185.9,169.6 189.6,170.4 191.1,169.1 191.1,165.4 187.4,164.6 185.9,165.9" fill="none" stroke="#000000" stroke-width="0.95"/><polyline points="185.9,165.9 189.6,166.7 189.6,170.4" fill="none" stroke="#000000" stroke-width="0.75"/></g>
<g><polygon points="199.9,174.2 203.6,174.9 203.6,171.3 199.9,170.6" fill="#ecec28"/><polygon points="203.6,174.9 205.1,173.6 205.1,170.0 203.6,171.3" fill="#929228"/><polygon points="199.9,170.6 203.6,171.3 205.1,170.0 201.4,169.3" fill="#ffff88"/><polygon points="199.9,174.2 203.6,174.9 205.1,173.6 205.1,170.0 201.4,169.3 199.9,170.6" fill="none" stroke="#141400" stroke-width="0.95"/><polyline points="199.9,170.6 203.6,171.3 203.6,174.9" fill="none" stroke="#141400" stroke-width="0.75"/></g>
<g><polygon points="251.7,190.3 255.4,191.0 255.4,187.4 251.7,186.7" fill="#0000b8"/><polygon points="255.4,191.0 256.9,189.7 256.9,186.1 255.4,187.4" fill="#00005a"/><polygon points="251.7,186.7 255.4,187.4 256.9,186.1 253.2,185.4" fill="#1e1ed8"/><polygon points="251.7,190.3 255.4,191.0 256.9,189.7 256.9,186.1 253.2,185.4 251.7,186.7" fill="none" stroke="#000030" stroke-width="0.95"/><polyline points="251.7,186.7 255.4,187.4 255.4,191.0" fill="none" stroke="#000030" stroke-width="0.75"/></g>
<g><polygon points="244.5,189.3 248.2,190.0 248.2,186.4 244.5,185.7" fill="#ecec28"/><polygon points="248.2,190.0 249.7,188.7 249.7,185.1 248.2,186.4" fill="#929228"/><polygon points="244.5,185.7 248.2,186.4 249.7,185.1 246.0,184.4" fill="#ffff88"/><polygon points="244.5,189.3 248.2,190.0 249.7,188.7 249.7,185.1 246.0,184.4 244.5,185.7" fill="none" stroke="#141400" stroke-width="0.95"/><polyline points="244.5,185.7 248.2,186.4 248.2,190.0" fill="none" stroke="#141400" stroke-width="0.75"/></g>
<g><polygon points="288.7,203.9 292.4,204.7 292.4,201.0 288.7,200.3" fill="#1a6660"/><polygon points="292.4,204.7 293.9,203.3 293.9,199.7 292.4,201.0" fill="#062824"/><polygon points="288.7,200.3 292.4,201.0 293.9,199.7 290.2,198.9" fill="#2f8a82"/><polygon points="288.7,203.9 292.4,204.7 293.9,203.3 293.9,199.7 290.2,198.9 288.7,200.3" fill="none" stroke="#001412" stroke-width="0.95"/><polyline points="288.7,200.3 292.4,201.0 292.4,204.7" fill="none" stroke="#001412" stroke-width="0.75"/></g>
<g><polygon points="279.0,202.0 282.7,202.7 282.7,199.1 279.0,198.4" fill="#1a6660"/><polygon points="282.7,202.7 284.2,201.4 284.2,197.8 282.7,199.1" fill="#062824"/><polygon points="279.0,198.4 282.7,199.1 284.2,197.8 280.5,197.1" fill="#2f8a82"/><polygon points="279.0,202.0 282.7,202.7 284.2,201.4 284.2,197.8 280.5,197.1 279.0,198.4" fill="none" stroke="#001412" stroke-width="0.95"/><polyline points="279.0,198.4 282.7,199.1 282.7,202.7" fill="none" stroke="#001412" stroke-width="0.75"/></g>
<g><polygon points="174.3,171.2 178.0,171.9 178.0,168.2 174.3,167.4" fill="#646464"/><polygon points="178.0,171.9 179.5,170.6 179.5,166.8 178.0,168.2" fill="#0a0a0a"/><polygon points="174.3,167.4 178.0,168.2 179.5,166.8 175.8,166.1" fill="#2a2a2a"/><polygon points="174.3,171.2 178.0,171.9 179.5,170.6 179.5,166.8 175.8,166.1 174.3,167.4" fill="none" stroke="#000000" stroke-width="0.95"/><polyline points="174.3,167.4 178.0,168.2 178.0,171.9" fill="none" stroke="#000000" stroke-width="0.75"/></g>
<g><polygon points="299.4,209.0 303.1,209.8 303.1,206.1 299.4,205.3" fill="#1a6660"/><polygon points="303.1,209.8 304.6,208.5 304.6,204.8 303.1,206.1" fill="#062824"/><polygon points="299.4,205.3 303.1,206.1 304.6,204.8 300.9,204.0" fill="#2f8a82"/><polygon points="299.4,209.0 303.1,209.8 304.6,208.5 304.6,204.8 300.9,204.0 299.4,205.3" fill="none" stroke="#001412" stroke-width="0.95"/><polyline points="299.4,205.3 303.1,206.1 303.1,209.8" fill="none" stroke="#001412" stroke-width="0.75"/></g>
<g><polygon points="183.1,175.0 186.8,175.8 186.8,172.1 183.1,171.3" fill="#ecec28"/><polygon points="186.8,175.8 188.3,174.5 188.3,170.8 186.8,172.1" fill="#929228"/><polygon points="183.1,171.3 186.8,172.1 188.3,170.8 184.6,170.0" fill="#ffff88"/><polygon points="183.1,175.0 186.8,175.8 188.3,174.5 188.3,170.8 184.6,170.0 183.1,171.3" fill="none" stroke="#141400" stroke-width="0.95"/><polyline points="183.1,171.3 186.8,172.1 186.8,175.8" fill="none" stroke="#141400" stroke-width="0.75"/></g>
<g><polygon points="124.3,158.3 128.1,159.0 128.1,155.2 124.3,154.5" fill="#ecec28"/><polygon points="128.1,159.0 129.7,157.7 129.7,153.9 128.1,155.2" fill="#929228"/><polygon points="124.3,154.5 128.1,155.2 129.7,153.9 125.9,153.2" fill="#ffff88"/><polygon points="124.3,158.3 128.1,159.0 129.7,157.7 129.7,153.9 125.9,153.2 124.3,154.5" fill="none" stroke="#141400" stroke-width="0.95"/><polyline points="124.3,154.5 128.1,155.2 128.1,159.0" fill="none" stroke="#141400" stroke-width="0.75"/></g>
<g><polygon points="226.0,189.7 229.7,190.4 229.7,186.8 226.0,186.1" fill="#ffffff"/><polygon points="229.7,190.4 231.2,189.1 231.2,185.5 229.7,186.8" fill="#dcdcdc"/><polygon points="226.0,186.1 229.7,186.8 231.2,185.5 227.5,184.8" fill="#f2f2f2"/><polygon points="226.0,189.7 229.7,190.4 231.2,189.1 231.2,185.5 227.5,184.8 226.0,186.1" fill="none" stroke="#000000" stroke-width="0.95"/><polyline points="226.0,186.1 229.7,186.8 229.7,190.4" fill="none" stroke="#000000" stroke-width="0.75"/></g>
<g><polygon points="270.8,203.8 274.5,204.6 274.5,200.9 270.8,200.2" fill="#0000b8"/><polygon points="274.5,204.6 276.0,203.2 276.0,199.6 274.5,200.9" fill="#00005a"/><polygon points="270.8,200.2 274.5,200.9 276.0,199.6 272.3,198.8" fill="#1e1ed8"/><polygon points="270.8,203.8 274.5,204.6 276.0,203.2 276.0,199.6 272.3,198.8 270.8,200.2" fill="none" stroke="#000030" stroke-width="0.95"/><polyline points="270.8,200.2 274.5,200.9 274.5,204.6" fill="none" stroke="#000030" stroke-width="0.75"/></g>
<g><polygon points="209.0,185.6 212.7,186.3 212.7,182.7 209.0,182.0" fill="#646464"/><polygon points="212.7,186.3 214.2,185.0 214.2,181.4 212.7,182.7" fill="#0a0a0a"/><polygon points="209.0,182.0 212.7,182.7 214.2,181.4 210.5,180.7" fill="#2a2a2a"/><polygon points="209.0,185.6 212.7,186.3 214.2,185.0 214.2,181.4 210.5,180.7 209.0,182.0" fill="none" stroke="#000000" stroke-width="0.95"/><polyline points="209.0,182.0 212.7,182.7 212.7,186.3" fill="none" stroke="#000000" stroke-width="0.75"/></g>
<g><polygon points="194.5,181.8 198.2,182.6 198.2,178.9 194.5,178.1" fill="#ecec28"/><polygon points="198.2,182.6 199.7,181.3 199.7,177.6 198.2,178.9" fill="#929228"/><polygon points="194.5,178.1 198.2,178.9 199.7,177.6 196.0,176.8" fill="#ffff88"/><polygon points="194.5,181.8 198.2,182.6 199.7,181.3 199.7,177.6 196.0,176.8 194.5,178.1" fill="none" stroke="#141400" stroke-width="0.95"/><polyline points="194.5,178.1 198.2,178.9 198.2,182.6" fill="none" stroke="#141400" stroke-width="0.75"/></g>
<g><polygon points="161.8,173.5 165.5,174.2 165.5,170.5 161.8,169.7" fill="#ecec28"/><polygon points="165.5,174.2 167.0,172.9 167.0,169.1 165.5,170.5" fill="#929228"/><polygon points="161.8,169.7 165.5,170.5 167.0,169.1 163.3,168.4" fill="#ffff88"/><polygon points="161.8,173.5 165.5,174.2 167.0,172.9 167.0,169.1 163.3,168.4 161.8,169.7" fill="none" stroke="#141400" stroke-width="0.95"/><polyline points="161.8,169.7 165.5,170.5 165.5,174.2" fill="none" stroke="#141400" stroke-width="0.75"/></g>
<g><polygon points="228.3,193.5 232.0,194.2 232.0,190.6 228.3,189.9" fill="#ffffff"/><polygon points="232.0,194.2 233.5,192.9 233.5,189.3 232.0,190.6" fill="#dcdcdc"/><polygon points="228.3,189.9 232.0,190.6 233.5,189.3 229.8,188.6" fill="#f2f2f2"/><polygon points="228.3,193.5 232.0,194.2 233.5,192.9 233.5,189.3 229.8,188.6 228.3,189.9" fill="none" stroke="#000000" stroke-width="0.95"/><polyline points="228.3,189.9 232.0,190.6 232.0,194.2" fill="none" stroke="#000000" stroke-width="0.75"/></g>
<g><polygon points="184.6,181.5 188.3,182.2 188.3,178.5 184.6,177.7" fill="#ecec28"/><polygon points="188.3,182.2 189.8,180.9 189.8,177.1 188.3,178.5" fill="#929228"/><polygon points="184.6,177.7 188.3,178.5 189.8,177.1 186.1,176.4" fill="#ffff88"/><polygon points="184.6,181.5 188.3,182.2 189.8,180.9 189.8,177.1 186.1,176.4 184.6,177.7" fill="none" stroke="#141400" stroke-width="0.95"/><polyline points="184.6,177.7 188.3,178.5 188.3,182.2" fill="none" stroke="#141400" stroke-width="0.75"/></g>
<g><polygon points="237.5,197.6 241.2,198.3 241.2,194.7 237.5,194.0" fill="#0000b8"/><polygon points="241.2,198.3 242.7,197.0 242.7,193.4 241.2,194.7" fill="#00005a"/><polygon points="237.5,194.0 241.2,194.7 242.7,193.4 239.0,192.7" fill="#1e1ed8"/><polygon points="237.5,197.6 241.2,198.3 242.7,197.0 242.7,193.4 239.0,192.7 237.5,194.0" fill="none" stroke="#000030" stroke-width="0.95"/><polyline points="237.5,194.0 241.2,194.7 241.2,198.3" fill="none" stroke="#000030" stroke-width="0.75"/></g>
<g><polygon points="125.4,166.4 129.2,167.2 129.2,163.3 125.4,162.6" fill="#ecec28"/><polygon points="129.2,167.2 130.8,165.8 130.8,162.0 129.2,163.3" fill="#929228"/><polygon points="125.4,162.6 129.2,163.3 130.8,162.0 127.0,161.2" fill="#ffff88"/><polygon points="125.4,166.4 129.2,167.2 130.8,165.8 130.8,162.0 127.0,161.2 125.4,162.6" fill="none" stroke="#141400" stroke-width="0.95"/><polyline points="125.4,162.6 129.2,163.3 129.2,167.2" fill="none" stroke="#141400" stroke-width="0.75"/></g>
<g><polygon points="227.4,198.0 231.1,198.7 231.1,195.1 227.4,194.4" fill="#0000b8"/><polygon points="231.1,198.7 232.6,197.4 232.6,193.8 231.1,195.1" fill="#00005a"/><polygon points="227.4,194.4 231.1,195.1 232.6,193.8 228.9,193.1" fill="#1e1ed8"/><polygon points="227.4,198.0 231.1,198.7 232.6,197.4 232.6,193.8 228.9,193.1 227.4,194.4" fill="none" stroke="#000030" stroke-width="0.95"/><polyline points="227.4,194.4 231.1,195.1 231.1,198.7" fill="none" stroke="#000030" stroke-width="0.75"/></g>
<g><polygon points="220.1,197.0 223.8,197.7 223.8,194.1 220.1,193.4" fill="#0000b8"/><polygon points="223.8,197.7 225.3,196.4 225.3,192.8 223.8,194.1" fill="#00005a"/><polygon points="220.1,193.4 223.8,194.1 225.3,192.8 221.6,192.1" fill="#1e1ed8"/><polygon points="220.1,197.0 223.8,197.7 225.3,196.4 225.3,192.8 221.6,192.1 220.1,193.4" fill="none" stroke="#000030" stroke-width="0.95"/><polyline points="220.1,193.4 223.8,194.1 223.8,197.7" fill="none" stroke="#000030" stroke-width="0.75"/></g>
<g><polygon points="261.9,212.3 265.6,213.1 265.6,209.4 261.9,208.6" fill="#ffffff"/><polygon points="265.6,213.1 267.1,211.8 267.1,208.1 265.6,209.4" fill="#dcdcdc"/><polygon points="261.9,208.6 265.6,209.4 267.1,208.1 263.4,207.3" fill="#f2f2f2"/><polygon points="261.9,212.3 265.6,213.1 267.1,211.8 267.1,208.1 263.4,207.3 261.9,208.6" fill="none" stroke="#000000" stroke-width="0.95"/><polyline points="261.9,208.6 265.6,209.4 265.6,213.1" fill="none" stroke="#000000" stroke-width="0.75"/></g>
<g><polygon points="212.6,198.1 216.3,198.9 216.3,195.2 212.6,194.5" fill="#ffffff"/><polygon points="216.3,198.9 217.8,197.5 217.8,193.9 216.3,195.2" fill="#dcdcdc"/><polygon points="212.6,194.5 216.3,195.2 217.8,193.9 214.1,193.1" fill="#f2f2f2"/><polygon points="212.6,198.1 216.3,198.9 217.8,197.5 217.8,193.9 214.1,193.1 212.6,194.5" fill="none" stroke="#000000" stroke-width="0.95"/><polyline points="212.6,194.5 216.3,195.2 216.3,198.9" fill="none" stroke="#000000" stroke-width="0.75"/></g>
<g><polygon points="214.9,199.1 218.6,199.8 218.6,196.2 214.9,195.5" fill="#ffffff"/><polygon points="218.6,199.8 220.1,198.5 220.1,194.9 218.6,196.2" fill="#dcdcdc"/><polygon points="214.9,195.5 218.6,196.2 220.1,194.9 216.4,194.2" fill="#f2f2f2"/><polygon points="214.9,199.1 218.6,199.8 220.1,198.5 220.1,194.9 216.4,194.2 214.9,195.5" fill="none" stroke="#000000" stroke-width="0.95"/><polyline points="214.9,195.5 218.6,196.2 218.6,199.8" fill="none" stroke="#000000" stroke-width="0.75"/></g>
<g><polygon points="194.1,193.0 197.8,193.7 197.8,190.0 194.1,189.2" fill="#d800d0"/><polygon points="197.8,193.7 199.3,192.4 199.3,188.6 197.8,190.0" fill="#680060"/><polygon points="194.1,189.2 197.8,190.0 199.3,188.6 195.6,187.9" fill="#f040f0"/><polygon points="194.1,193.0 197.8,193.7 199.3,192.4 199.3,188.6 195.6,187.9 194.1,189.2" fill="none" stroke="#300030" stroke-width="0.95"/><polyline points="194.1,189.2 197.8,190.0 197.8,193.7" fill="none" stroke="#300030" stroke-width="0.75"/></g>
<g><polygon points="208.0,198.1 211.7,198.9 211.7,195.2 208.0,194.4" fill="#ffffff"/><polygon points="211.7,198.9 213.2,197.6 213.2,193.9 211.7,195.2" fill="#dcdcdc"/><polygon points="208.0,194.4 211.7,195.2 213.2,193.9 209.5,193.1" fill="#f2f2f2"/><polygon points="208.0,198.1 211.7,198.9 213.2,197.6 213.2,193.9 209.5,193.1 208.0,194.4" fill="none" stroke="#000000" stroke-width="0.95"/><polyline points="208.0,194.4 211.7,195.2 211.7,198.9" fill="none" stroke="#000000" stroke-width="0.75"/></g>
<g><polygon points="215.9,200.9 219.6,201.6 219.6,198.0 215.9,197.3" fill="#ffffff"/><polygon points="219.6,201.6 221.1,200.3 221.1,196.7 219.6,198.0" fill="#dcdcdc"/><polygon points="215.9,197.3 219.6,198.0 221.1,196.7 217.4,196.0" fill="#f2f2f2"/><polygon points="215.9,200.9 219.6,201.6 221.1,200.3 221.1,196.7 217.4,196.0 215.9,197.3" fill="none" stroke="#000000" stroke-width="0.95"/><polyline points="215.9,197.3 219.6,198.0 219.6,201.6" fill="none" stroke="#000000" stroke-width="0.75"/></g>
<g><polygon points="227.0,205.6 230.7,206.4 230.7,202.7 227.0,201.9" fill="#ffffff"/><polygon points="230.7,206.4 232.2,205.1 232.2,201.4 230.7,202.7" fill="#dcdcdc"/><polygon points="227.0,201.9 230.7,202.7 232.2,201.4 228.5,200.6" fill="#f2f2f2"/><polygon points="227.0,205.6 230.7,206.4 232.2,205.1 232.2,201.4 228.5,200.6 227.0,201.9" fill="none" stroke="#000000" stroke-width="0.95"/><polyline points="227.0,201.9 230.7,202.7 230.7,206.4" fill="none" stroke="#000000" stroke-width="0.75"/></g>
<g><polygon points="217.9,203.1 221.6,203.9 221.6,200.2 217.9,199.5" fill="#ffffff"/><polygon points="221.6,203.9 223.1,202.5 223.1,198.9 221.6,200.2" fill="#dcdcdc"/><polygon points="217.9,199.5 221.6,200.2 223.1,198.9 219.4,198.1" fill="#f2f2f2"/><polygon points="217.9,203.1 221.6,203.9 223.1,202.5 223.1,198.9 219.4,198.1 217.9,199.5" fill="none" stroke="#000000" stroke-width="0.95"/><polyline points="217.9,199.5 221.6,200.2 221.6,203.9" fill="none" stroke="#000000" stroke-width="0.75"/></g>
<g><polygon points="269.4,219.4 273.1,220.2 273.1,216.5 269.4,215.7" fill="#0000b8"/><polygon points="273.1,220.2 274.6,218.9 274.6,215.2 273.1,216.5" fill="#00005a"/><polygon points="269.4,215.7 273.1,216.5 274.6,215.2 270.9,214.4" fill="#1e1ed8"/><polygon points="269.4,219.4 273.1,220.2 274.6,218.9 274.6,215.2 270.9,214.4 269.4,215.7" fill="none" stroke="#000030" stroke-width="0.95"/><polyline points="269.4,215.7 273.1,216.5 273.1,220.2" fill="none" stroke="#000030" stroke-width="0.75"/></g>
<g><polygon points="195.3,197.9 199.0,198.6 199.0,194.9 195.3,194.1" fill="#0000b8"/><polygon points="199.0,198.6 200.5,197.3 200.5,193.5 199.0,194.9" fill="#00005a"/><polygon points="195.3,194.1 199.0,194.9 200.5,193.5 196.8,192.8" fill="#1e1ed8"/><polygon points="195.3,197.9 199.0,198.6 200.5,197.3 200.5,193.5 196.8,192.8 195.3,194.1" fill="none" stroke="#000030" stroke-width="0.95"/><polyline points="195.3,194.1 199.0,194.9 199.0,198.6" fill="none" stroke="#000030" stroke-width="0.75"/></g>
<g><polygon points="215.6,203.9 219.3,204.7 219.3,201.0 215.6,200.2" fill="#ffffff"/><polygon points="219.3,204.7 220.8,203.4 220.8,199.7 219.3,201.0" fill="#dcdcdc"/><polygon points="215.6,200.2 219.3,201.0 220.8,199.7 217.1,198.9" fill="#f2f2f2"/><polygon points="215.6,203.9 219.3,204.7 220.8,203.4 220.8,199.7 217.1,198.9 215.6,200.2" fill="none" stroke="#000000" stroke-width="0.95"/><polyline points="215.6,200.2 219.3,201.0 219.3,204.7" fill="none" stroke="#000000" stroke-width="0.75"/></g>
<g><polygon points="184.6,197.9 188.3,198.6 188.3,194.9 184.6,194.1" fill="#ffffff"/><polygon points="188.3,198.6 189.8,197.3 189.8,193.5 188.3,194.9" fill="#dcdcdc"/><polygon points="184.6,194.1 188.3,194.9 189.8,193.5 186.1,192.8" fill="#f2f2f2"/><polygon points="184.6,197.9 188.3,198.6 189.8,197.3 189.8,193.5 186.1,192.8 184.6,194.1" fill="none" stroke="#000000" stroke-width="0.95"/><polyline points="184.6,194.1 188.3,194.9 188.3,198.6" fill="none" stroke="#000000" stroke-width="0.75"/></g>
<g><polygon points="223.3,209.5 227.0,210.3 227.0,206.6 223.3,205.8" fill="#ffffff"/><polygon points="227.0,210.3 228.5,209.0 228.5,205.3 227.0,206.6" fill="#dcdcdc"/><polygon points="223.3,205.8 227.0,206.6 228.5,205.3 224.8,204.5" fill="#f2f2f2"/><polygon points="223.3,209.5 227.0,210.3 228.5,209.0 228.5,205.3 224.8,204.5 223.3,205.8" fill="none" stroke="#000000" stroke-width="0.95"/><polyline points="223.3,205.8 227.0,206.6 227.0,210.3" fill="none" stroke="#000000" stroke-width="0.75"/></g>
<g><polygon points="209.0,205.9 212.7,206.7 212.7,203.0 209.0,202.2" fill="#0000b8"/><polygon points="212.7,206.7 214.2,205.4 214.2,201.7 212.7,203.0" fill="#00005a"/><polygon points="209.0,202.2 212.7,203.0 214.2,201.7 210.5,200.9" fill="#1e1ed8"/><polygon points="209.0,205.9 212.7,206.7 214.2,205.4 214.2,201.7 210.5,200.9 209.0,202.2" fill="none" stroke="#000030" stroke-width="0.95"/><polyline points="209.0,202.2 212.7,203.0 212.7,206.7" fill="none" stroke="#000030" stroke-width="0.75"/></g>
<g><polygon points="162.4,192.1 166.2,192.8 166.2,189.0 162.4,188.3" fill="#ecec28"/><polygon points="166.2,192.8 167.8,191.5 167.8,187.7 166.2,189.0" fill="#929228"/><polygon points="162.4,188.3 166.2,189.0 167.8,187.7 164.0,187.0" fill="#ffff88"/><polygon points="162.4,192.1 166.2,192.8 167.8,191.5 167.8,187.7 164.0,187.0 162.4,188.3" fill="none" stroke="#141400" stroke-width="0.95"/><polyline points="162.4,188.3 166.2,189.0 166.2,192.8" fill="none" stroke="#141400" stroke-width="0.75"/></g>
<g><polygon points="209.7,207.1 213.4,207.9 213.4,204.2 209.7,203.4" fill="#0000b8"/><polygon points="213.4,207.9 214.9,206.6 214.9,202.9 213.4,204.2" fill="#00005a"/><polygon points="209.7,203.4 213.4,204.2 214.9,202.9 211.2,202.1" fill="#1e1ed8"/><polygon points="209.7,207.1 213.4,207.9 214.9,206.6 214.9,202.9 211.2,202.1 209.7,203.4" fill="none" stroke="#000030" stroke-width="0.95"/><polyline points="209.7,203.4 213.4,204.2 213.4,207.9" fill="none" stroke="#000030" stroke-width="0.75"/></g>
<g><polygon points="179.3,199.4 183.0,200.1 183.0,196.4 179.3,195.6" fill="#ecec28"/><polygon points="183.0,200.1 184.5,198.8 184.5,195.0 183.0,196.4" fill="#929228"/><polygon points="179.3,195.6 183.0,196.4 184.5,195.0 180.8,194.3" fill="#ffff88"/><polygon points="179.3,199.4 183.0,200.1 184.5,198.8 184.5,195.0 180.8,194.3 179.3,195.6" fill="none" stroke="#141400" stroke-width="0.95"/><polyline points="179.3,195.6 183.0,196.4 183.0,200.1" fill="none" stroke="#141400" stroke-width="0.75"/></g>
<g><polygon points="226.0,213.7 229.7,214.5 229.7,210.8 226.0,210.0" fill="#0000b8"/><polygon points="229.7,214.5 231.2,213.2 231.2,209.5 229.7,210.8" fill="#00005a"/><polygon points="226.0,210.0 229.7,210.8 231.2,209.5 227.5,208.7" fill="#1e1ed8"/><polygon points="226.0,213.7 229.7,214.5 231.2,213.2 231.2,209.5 227.5,208.7 226.0,210.0" fill="none" stroke="#000030" stroke-width="0.95"/><polyline points="226.0,210.0 229.7,210.8 229.7,214.5" fill="none" stroke="#000030" stroke-width="0.75"/></g>
<g><polygon points="237.2,217.5 240.9,218.3 240.9,214.6 237.2,213.8" fill="#ffffff"/><polygon points="240.9,218.3 242.4,217.0 242.4,213.3 240.9,214.6" fill="#dcdcdc"/><polygon points="237.2,213.8 240.9,214.6 242.4,213.3 238.7,212.5" fill="#f2f2f2"/><polygon points="237.2,217.5 240.9,218.3 242.4,217.0 242.4,213.3 238.7,212.5 237.2,213.8" fill="none" stroke="#000000" stroke-width="0.95"/><polyline points="237.2,213.8 240.9,214.6 240.9,218.3" fill="none" stroke="#000000" stroke-width="0.75"/></g>
<g><polygon points="80.8,172.1 84.8,172.8 84.8,168.9 80.8,168.1" fill="#ecec28"/><polygon points="84.8,172.8 86.4,171.5 86.4,167.5 84.8,168.9" fill="#929228"/><polygon points="80.8,168.1 84.8,168.9 86.4,167.5 82.4,166.8" fill="#ffff88"/><polygon points="80.8,172.1 84.8,172.8 86.4,171.5 86.4,167.5 82.4,166.8 80.8,168.1" fill="none" stroke="#141400" stroke-width="0.95"/><polyline points="80.8,168.1 84.8,168.9 84.8,172.8" fill="none" stroke="#141400" stroke-width="0.75"/></g>
<g><polygon points="204.4,210.4 208.1,211.1 208.1,207.4 204.4,206.6" fill="#ecec28"/><polygon points="208.1,211.1 209.6,209.8 209.6,206.0 208.1,207.4" fill="#929228"/><polygon points="204.4,206.6 208.1,207.4 209.6,206.0 205.9,205.3" fill="#ffff88"/><polygon points="204.4,210.4 208.1,211.1 209.6,209.8 209.6,206.0 205.9,205.3 204.4,206.6" fill="none" stroke="#141400" stroke-width="0.95"/><polyline points="204.4,206.6 208.1,207.4 208.1,211.1" fill="none" stroke="#141400" stroke-width="0.75"/></g>
<g><polygon points="230.3,218.6 234.0,219.4 234.0,215.7 230.3,214.9" fill="#0000b8"/><polygon points="234.0,219.4 235.5,218.1 235.5,214.4 234.0,215.7" fill="#00005a"/><polygon points="230.3,214.9 234.0,215.7 235.5,214.4 231.8,213.6" fill="#1e1ed8"/><polygon points="230.3,218.6 234.0,219.4 235.5,218.1 235.5,214.4 231.8,213.6 230.3,214.9" fill="none" stroke="#000030" stroke-width="0.95"/><polyline points="230.3,214.9 234.0,215.7 234.0,219.4" fill="none" stroke="#000030" stroke-width="0.75"/></g>
<g><polygon points="167.0,204.8 170.8,205.5 170.8,201.7 167.0,201.0" fill="#ffffff"/><polygon points="170.8,205.5 172.4,204.2 172.4,200.4 170.8,201.7" fill="#dcdcdc"/><polygon points="167.0,201.0 170.8,201.7 172.4,200.4 168.6,199.7" fill="#f2f2f2"/><polygon points="167.0,204.8 170.8,205.5 172.4,204.2 172.4,200.4 168.6,199.7 167.0,201.0" fill="none" stroke="#000000" stroke-width="0.95"/><polyline points="167.0,201.0 170.8,201.7 170.8,205.5" fill="none" stroke="#000000" stroke-width="0.75"/></g>
<g><polygon points="261.4,235.3 265.1,236.0 265.1,232.3 261.4,231.5" fill="#ffffff"/><polygon points="265.1,236.0 266.6,234.7 266.6,230.9 265.1,232.3" fill="#dcdcdc"/><polygon points="261.4,231.5 265.1,232.3 266.6,230.9 262.9,230.2" fill="#f2f2f2"/><polygon points="261.4,235.3 265.1,236.0 266.6,234.7 266.6,230.9 262.9,230.2 261.4,231.5" fill="none" stroke="#000000" stroke-width="0.95"/><polyline points="261.4,231.5 265.1,232.3 265.1,236.0" fill="none" stroke="#000000" stroke-width="0.75"/></g>
<g><polygon points="105.8,191.6 109.7,192.3 109.7,188.4 105.8,187.7" fill="#ecec28"/><polygon points="109.7,192.3 111.2,190.9 111.2,187.0 109.7,188.4" fill="#929228"/><polygon points="105.8,187.7 109.7,188.4 111.2,187.0 107.3,186.3" fill="#ffff88"/><polygon points="105.8,191.6 109.7,192.3 111.2,190.9 111.2,187.0 107.3,186.3 105.8,187.7" fill="none" stroke="#141400" stroke-width="0.95"/><polyline points="105.8,187.7 109.7,188.4 109.7,192.3" fill="none" stroke="#141400" stroke-width="0.75"/></g>
<g><polygon points="160.5,209.3 164.3,210.1 164.3,206.2 160.5,205.5" fill="#0000b8"/><polygon points="164.3,210.1 165.9,208.7 165.9,204.9 164.3,206.2" fill="#00005a"/><polygon points="160.5,205.5 164.3,206.2 165.9,204.9 162.1,204.1" fill="#1e1ed8"/><polygon points="160.5,209.3 164.3,210.1 165.9,208.7 165.9,204.9 162.1,204.1 160.5,205.5" fill="none" stroke="#000030" stroke-width="0.95"/><polyline points="160.5,205.5 164.3,206.2 164.3,210.1" fill="none" stroke="#000030" stroke-width="0.75"/></g>
<g><polygon points="110.3,196.8 114.2,197.5 114.2,193.6 110.3,192.9" fill="#ecec28"/><polygon points="114.2,197.5 115.7,196.1 115.7,192.2 114.2,193.6" fill="#929228"/><polygon points="110.3,192.9 114.2,193.6 115.7,192.2 111.8,191.5" fill="#ffff88"/><polygon points="110.3,196.8 114.2,197.5 115.7,196.1 115.7,192.2 111.8,191.5 110.3,192.9" fill="none" stroke="#141400" stroke-width="0.95"/><polyline points="110.3,192.9 114.2,193.6 114.2,197.5" fill="none" stroke="#141400" stroke-width="0.75"/></g>
<g><polygon points="202.6,225.8 206.3,226.5 206.3,222.8 202.6,222.0" fill="#ffffff"/><polygon points="206.3,226.5 207.8,225.2 207.8,221.4 206.3,222.8" fill="#dcdcdc"/><polygon points="202.6,222.0 206.3,222.8 207.8,221.4 204.1,220.7" fill="#f2f2f2"/><polygon points="202.6,225.8 206.3,226.5 207.8,225.2 207.8,221.4 204.1,220.7 202.6,222.0" fill="none" stroke="#000000" stroke-width="0.95"/><polyline points="202.6,222.0 206.3,222.8 206.3,226.5" fill="none" stroke="#000000" stroke-width="0.75"/></g>
<g><polygon points="245.9,239.5 249.6,240.2 249.6,236.5 245.9,235.7" fill="#ffffff"/><polygon points="249.6,240.2 251.1,238.9 251.1,235.1 249.6,236.5" fill="#dcdcdc"/><polygon points="245.9,235.7 249.6,236.5 251.1,235.1 247.4,234.4" fill="#f2f2f2"/><polygon points="245.9,239.5 249.6,240.2 251.1,238.9 251.1,235.1 247.4,234.4 245.9,235.7" fill="none" stroke="#000000" stroke-width="0.95"/><polyline points="245.9,235.7 249.6,236.5 249.6,240.2" fill="none" stroke="#000000" stroke-width="0.75"/></g>
<g><polygon points="191.5,224.3 195.2,225.0 195.2,221.2 191.5,220.5" fill="#ffffff"/><polygon points="195.2,225.0 196.7,223.7 196.7,219.9 195.2,221.2" fill="#dcdcdc"/><polygon points="191.5,220.5 195.2,221.2 196.7,219.9 193.0,219.2" fill="#f2f2f2"/><polygon points="191.5,224.3 195.2,225.0 196.7,223.7 196.7,219.9 193.0,219.2 191.5,220.5" fill="none" stroke="#000000" stroke-width="0.95"/><polyline points="191.5,220.5 195.2,221.2 195.2,225.0" fill="none" stroke="#000000" stroke-width="0.75"/></g>
<g><polygon points="209.0,231.9 212.7,232.6 212.7,228.9 209.0,228.1" fill="#0000b8"/><polygon points="212.7,232.6 214.2,231.3 214.2,227.5 212.7,228.9" fill="#00005a"/><polygon points="209.0,228.1 212.7,228.9 214.2,227.5 210.5,226.8" fill="#1e1ed8"/><polygon points="209.0,231.9 212.7,232.6 214.2,231.3 214.2,227.5 210.5,226.8 209.0,228.1" fill="none" stroke="#000030" stroke-width="0.95"/><polyline points="209.0,228.1 212.7,228.9 212.7,232.6" fill="none" stroke="#000030" stroke-width="0.75"/></g>
<g><polygon points="257.6,248.2 261.3,248.9 261.3,245.2 257.6,244.4" fill="#0000b8"/><polygon points="261.3,248.9 262.8,247.6 262.8,243.8 261.3,245.2" fill="#00005a"/><polygon points="257.6,244.4 261.3,245.2 262.8,243.8 259.1,243.1" fill="#1e1ed8"/><polygon points="257.6,248.2 261.3,248.9 262.8,247.6 262.8,243.8 259.1,243.1 257.6,244.4" fill="none" stroke="#000030" stroke-width="0.95"/><polyline points="257.6,244.4 261.3,245.2 261.3,248.9" fill="none" stroke="#000030" stroke-width="0.75"/></g>
<g><polygon points="74.3,201.8 78.3,202.6 78.3,198.6 74.3,197.8" fill="#ecec28"/><polygon points="78.3,202.6 79.9,201.2 79.9,197.2 78.3,198.6" fill="#929228"/><polygon points="74.3,197.8 78.3,198.6 79.9,197.2 75.9,196.4" fill="#ffff88"/><polygon points="74.3,201.8 78.3,202.6 79.9,201.2 79.9,197.2 75.9,196.4 74.3,197.8" fill="none" stroke="#141400" stroke-width="0.95"/><polyline points="74.3,197.8 78.3,198.6 78.3,202.6" fill="none" stroke="#141400" stroke-width="0.75"/></g>
<g><polygon points="253.5,258.4 257.2,259.1 257.2,255.3 253.5,254.6" fill="#0000b8"/><polygon points="257.2,259.1 258.7,257.8 258.7,254.0 257.2,255.3" fill="#00005a"/><polygon points="253.5,254.6 257.2,255.3 258.7,254.0 255.0,253.3" fill="#1e1ed8"/><polygon points="253.5,258.4 257.2,259.1 258.7,257.8 258.7,254.0 255.0,253.3 253.5,254.6" fill="none" stroke="#000030" stroke-width="0.95"/><polyline points="253.5,254.6 257.2,255.3 257.2,259.1" fill="none" stroke="#000030" stroke-width="0.75"/></g>
<g><polygon points="237.3,256.2 241.0,256.9 241.0,253.1 237.3,252.4" fill="#0000b8"/><polygon points="241.0,256.9 242.5,255.6 242.5,251.8 241.0,253.1" fill="#00005a"/><polygon points="237.3,252.4 241.0,253.1 242.5,251.8 238.8,251.1" fill="#1e1ed8"/><polygon points="237.3,256.2 241.0,256.9 242.5,255.6 242.5,251.8 238.8,251.1 237.3,252.4" fill="none" stroke="#000030" stroke-width="0.95"/><polyline points="237.3,252.4 241.0,253.1 241.0,256.9" fill="none" stroke="#000030" stroke-width="0.75"/></g>
<g><polygon points="272.1,276.1 275.8,276.8 275.8,273.0 272.1,272.3" fill="#0000b8"/><polygon points="275.8,276.8 277.3,275.5 277.3,271.7 275.8,273.0" fill="#00005a"/><polygon points="272.1,272.3 275.8,273.0 277.3,271.7 273.6,271.0" fill="#1e1ed8"/><polygon points="272.1,276.1 275.8,276.8 277.3,275.5 277.3,271.7 273.6,271.0 272.1,272.3" fill="none" stroke="#000030" stroke-width="0.95"/><polyline points="272.1,272.3 275.8,273.0 275.8,276.8" fill="none" stroke="#000030" stroke-width="0.75"/></g>
<g><polygon points="151.7,277.5 155.6,278.2 155.6,274.3 151.7,273.6" fill="#0000b8"/><polygon points="155.6,278.2 157.1,276.8 157.1,272.9 155.6,274.3" fill="#00005a"/><polygon points="151.7,273.6 155.6,274.3 157.1,272.9 153.2,272.2" fill="#1e1ed8"/><polygon points="151.7,277.5 155.6,278.2 157.1,276.8 157.1,272.9 153.2,272.2 151.7,273.6" fill="none" stroke="#000030" stroke-width="0.95"/><polyline points="151.7,273.6 155.6,274.3 155.6,278.2" fill="none" stroke="#000030" stroke-width="0.75"/></g>
<text transform="translate(30.36 82.00) scale(0.89 1)" text-anchor="end" class="t">120</text>
<text transform="translate(31.30 103.40) scale(0.89 1)" text-anchor="end" class="t">100</text>
<text transform="translate(32.21 124.00) scale(0.89 1)" text-anchor="end" class="t">80</text>
<text transform="translate(33.09 144.10) scale(0.89 1)" text-anchor="end" class="t">60</text>
<text transform="translate(33.99 164.40) scale(0.89 1)" text-anchor="end" class="t">40</text>
<text transform="translate(34.88 184.70) scale(0.89 1)" text-anchor="end" class="t">20</text>
<text transform="translate(35.76 204.70) scale(0.89 1)" text-anchor="end" class="t">0</text>
<text transform="translate(36.63 224.40) scale(0.89 1)" text-anchor="end" class="t">-20</text>
<text transform="translate(37.47 243.40) scale(0.89 1)" text-anchor="end" class="t">-40</text>
<text transform="translate(38.33 262.90) scale(0.89 1)" text-anchor="end" class="t">-60</text>
<text transform="translate(39.20 282.80) scale(0.89 1)" text-anchor="end" class="t">-80</text>
<text transform="translate(40.05 301.90) scale(0.89 1)" text-anchor="end" class="t">-100</text>
<text transform="translate(94.80 327.20) scale(0.89 1)" text-anchor="middle" class="t">-5,000</text>
<text transform="translate(152.70 339.00) scale(0.89 1)" text-anchor="middle" class="t">0</text>
<text transform="translate(213.70 352.10) scale(0.89 1)" text-anchor="middle" class="t">5,000</text>
<text transform="translate(277.00 364.30) scale(0.89 1)" text-anchor="middle" class="t">10,000</text>
<text transform="translate(342.00 378.20) scale(0.89 1)" text-anchor="middle" class="t">15,000</text>
<text transform="translate(408.50 390.80) scale(0.89 1)" text-anchor="middle" class="t">20,000</text>
<text transform="translate(530.10 256.20) scale(0.89 1)" class="t">16,000</text>
<text transform="translate(524.30 263.80) scale(0.89 1)" class="t">14,000</text>
<text transform="translate(518.20 271.50) scale(0.89 1)" class="t">12,000</text>
<text transform="translate(510.70 279.80) scale(0.89 1)" class="t">10,000</text>
<text transform="translate(503.80 288.20) scale(0.89 1)" class="t">8,000</text>
<text transform="translate(496.30 296.90) scale(0.89 1)" class="t">6,000</text>
<text transform="translate(488.70 305.30) scale(0.89 1)" class="t">4,000</text>
<text transform="translate(481.20 313.90) scale(0.89 1)" class="t">2,000</text>
<text transform="translate(472.80 323.70) scale(0.89 1)" class="t">0</text>
<text transform="translate(465.00 332.60) scale(0.89 1)" class="t">-2,000</text>
<text transform="translate(456.90 342.20) scale(0.89 1)" class="t">-4,000</text>
<text transform="translate(447.80 352.00) scale(0.89 1)" class="t">-6,000</text>
<text transform="translate(438.70 361.50) scale(0.89 1)" class="t">-8,000</text>
<text transform="translate(429.90 371.80) scale(0.89 1)" class="t">-10,000</text>
<text transform="translate(420.30 381.90) scale(0.89 1)" class="t">-12,000</text>
<text transform="translate(176 369.9) scale(0.94 1)" class="at">Axe 1 (38.53 %)</text>
<text transform="translate(512 320.1) scale(0.95 1)" class="at">Axe 3 (16.00 %)</text>
<text transform="translate(10.6,231.8) rotate(-90) scale(1 0.88)" x="0" y="0" class="at" style="font-size:12.6px">Ax<tspan dx="2">e 2 (20.56 %)</tspan></text>
<circle cx="552.8" cy="119.0" r="3.8" fill="#3a8a80"/>
<text transform="translate(565.85 120.9) scale(0.499 1)" text-anchor="middle" class="lgs">W</text>
<text transform="translate(572.55 120.9) scale(1.000 1)" text-anchor="middle" class="lgs">a</text>
<text transform="translate(579.25 120.9) scale(1.000 1)" text-anchor="middle" class="lgs">i</text>
<text transform="translate(585.95 120.9) scale(0.772 1)" text-anchor="middle" class="lgs">L</text>
<text transform="translate(592.65 120.9) scale(1.000 1)" text-anchor="middle" class="lgs">i</text>
<text transform="translate(599.35 120.9) scale(0.943 1)" text-anchor="middle" class="lgs">n</text>
<text transform="translate(606.05 120.9) scale(0.943 1)" text-anchor="middle" class="lgs">g</text>
<text transform="translate(612.75 120.9) scale(0.943 1)" text-anchor="middle" class="lgs">d</text>
<text transform="translate(619.45 120.9) scale(1.000 1)" text-anchor="middle" class="lgs">i</text>
<text transform="translate(626.15 120.9) scale(0.943 1)" text-anchor="middle" class="lgs">n</text>
<text transform="translate(632.85 120.9) scale(0.943 1)" text-anchor="middle" class="lgs">g</text>
<text transform="translate(646.25 120.9) scale(1.000 1)" text-anchor="middle" class="lgs">I</text>
<text transform="translate(652.95 120.9) scale(1.000 1)" text-anchor="middle" class="lgs">s</text>
<text transform="translate(659.65 120.9) scale(1.000 1)" text-anchor="middle" class="lgs">l</text>
<text transform="translate(666.35 120.9) scale(1.000 1)" text-anchor="middle" class="lgs">a</text>
<text transform="translate(673.05 120.9) scale(0.943 1)" text-anchor="middle" class="lgs">n</text>
<text transform="translate(679.75 120.9) scale(0.943 1)" text-anchor="middle" class="lgs">d</text>
<circle cx="552.8" cy="137.0" r="3.8" fill="#0000b4"/>
<text transform="translate(565.85 139.0) scale(0.848 1)" text-anchor="middle" class="lgs">S</text>
<text transform="translate(572.55 139.0) scale(0.943 1)" text-anchor="middle" class="lgs">h</text>
<text transform="translate(579.25 139.0) scale(1.000 1)" text-anchor="middle" class="lgs">a</text>
<text transform="translate(585.95 139.0) scale(0.943 1)" text-anchor="middle" class="lgs">n</text>
<text transform="translate(592.65 139.0) scale(0.943 1)" text-anchor="middle" class="lgs">g</text>
<text transform="translate(599.35 139.0) scale(0.707 1)" text-anchor="middle" class="lgs">C</text>
<text transform="translate(606.05 139.0) scale(0.943 1)" text-anchor="middle" class="lgs">h</text>
<text transform="translate(612.75 139.0) scale(0.943 1)" text-anchor="middle" class="lgs">u</text>
<text transform="translate(619.45 139.0) scale(1.000 1)" text-anchor="middle" class="lgs">a</text>
<text transform="translate(626.15 139.0) scale(0.943 1)" text-anchor="middle" class="lgs">n</text>
<text transform="translate(639.55 139.0) scale(1.000 1)" text-anchor="middle" class="lgs">I</text>
<text transform="translate(646.25 139.0) scale(1.000 1)" text-anchor="middle" class="lgs">s</text>
<text transform="translate(652.95 139.0) scale(1.000 1)" text-anchor="middle" class="lgs">l</text>
<text transform="translate(659.65 139.0) scale(1.000 1)" text-anchor="middle" class="lgs">a</text>
<text transform="translate(666.35 139.0) scale(0.943 1)" text-anchor="middle" class="lgs">n</text>
<text transform="translate(673.05 139.0) scale(0.943 1)" text-anchor="middle" class="lgs">d</text>
<circle cx="552.8" cy="155.5" r="3.2" fill="#fff" stroke="#555" stroke-width="1.2"/>
<text transform="translate(565.85 157.9) scale(0.653 1)" text-anchor="middle" class="lgs">N</text>
<text transform="translate(572.55 157.9) scale(1.000 1)" text-anchor="middle" class="lgs">a</text>
<text transform="translate(579.25 157.9) scale(0.943 1)" text-anchor="middle" class="lgs">o</text>
<text transform="translate(585.95 157.9) scale(0.772 1)" text-anchor="middle" class="lgs">Z</text>
<text transform="translate(592.65 157.9) scale(0.943 1)" text-anchor="middle" class="lgs">h</text>
<text transform="translate(599.35 157.9) scale(0.943 1)" text-anchor="middle" class="lgs">o</text>
<text transform="translate(606.05 157.9) scale(0.943 1)" text-anchor="middle" class="lgs">u</text>
<text transform="translate(619.45 157.9) scale(1.000 1)" text-anchor="middle" class="lgs">I</text>
<text transform="translate(626.15 157.9) scale(1.000 1)" text-anchor="middle" class="lgs">s</text>
<text transform="translate(632.85 157.9) scale(1.000 1)" text-anchor="middle" class="lgs">l</text>
<text transform="translate(639.55 157.9) scale(1.000 1)" text-anchor="middle" class="lgs">a</text>
<text transform="translate(646.25 157.9) scale(0.943 1)" text-anchor="middle" class="lgs">n</text>
<text transform="translate(652.95 157.9) scale(0.943 1)" text-anchor="middle" class="lgs">d</text>
<circle cx="552.8" cy="174.1" r="3.8" fill="#ffff20"/>
<text transform="translate(565.85 176.5) scale(0.653 1)" text-anchor="middle" class="lgs">H</text>
<text transform="translate(572.55 176.5) scale(1.000 1)" text-anchor="middle" class="lgs">e</text>
<text transform="translate(579.25 176.5) scale(0.707 1)" text-anchor="middle" class="lgs">B</text>
<text transform="translate(585.95 176.5) scale(1.000 1)" text-anchor="middle" class="lgs">a</text>
<text transform="translate(592.65 176.5) scale(0.943 1)" text-anchor="middle" class="lgs">o</text>
<text transform="translate(606.05 176.5) scale(1.000 1)" text-anchor="middle" class="lgs">I</text>
<text transform="translate(612.75 176.5) scale(1.000 1)" text-anchor="middle" class="lgs">s</text>
<text transform="translate(619.45 176.5) scale(1.000 1)" text-anchor="middle" class="lgs">l</text>
<text transform="translate(626.15 176.5) scale(1.000 1)" text-anchor="middle" class="lgs">a</text>
<text transform="translate(632.85 176.5) scale(0.943 1)" text-anchor="middle" class="lgs">n</text>
<text transform="translate(639.55 176.5) scale(0.943 1)" text-anchor="middle" class="lgs">d</text>
<circle cx="552.8" cy="192.3" r="3.8" fill="#d000c8"/>
<text transform="translate(565.85 194.7) scale(0.653 1)" text-anchor="middle" class="lgs">D</text>
<text transform="translate(572.55 194.7) scale(0.943 1)" text-anchor="middle" class="lgs">o</text>
<text transform="translate(579.25 194.7) scale(0.943 1)" text-anchor="middle" class="lgs">n</text>
<text transform="translate(585.95 194.7) scale(0.943 1)" text-anchor="middle" class="lgs">g</text>
<text transform="translate(592.65 194.7) scale(0.653 1)" text-anchor="middle" class="lgs">A</text>
<text transform="translate(599.35 194.7) scale(0.943 1)" text-anchor="middle" class="lgs">o</text>
<text transform="translate(612.75 194.7) scale(1.000 1)" text-anchor="middle" class="lgs">I</text>
<text transform="translate(619.45 194.7) scale(1.000 1)" text-anchor="middle" class="lgs">s</text>
<text transform="translate(626.15 194.7) scale(1.000 1)" text-anchor="middle" class="lgs">l</text>
<text transform="translate(632.85 194.7) scale(1.000 1)" text-anchor="middle" class="lgs">a</text>
<text transform="translate(639.55 194.7) scale(0.943 1)" text-anchor="middle" class="lgs">n</text>
<text transform="translate(646.25 194.7) scale(0.943 1)" text-anchor="middle" class="lgs">d</text>
<circle cx="552.8" cy="210.9" r="3.8" fill="#858585"/>
<text transform="translate(565.85 213.3) scale(0.499 1)" text-anchor="middle" class="lgs">W</text>
<text transform="translate(572.55 213.3) scale(1.000 1)" text-anchor="middle" class="lgs">e</text>
<text transform="translate(579.25 213.3) scale(1.000 1)" text-anchor="middle" class="lgs">i</text>
<text transform="translate(585.95 213.3) scale(0.772 1)" text-anchor="middle" class="lgs">Z</text>
<text transform="translate(592.65 213.3) scale(0.943 1)" text-anchor="middle" class="lgs">h</text>
<text transform="translate(599.35 213.3) scale(0.943 1)" text-anchor="middle" class="lgs">o</text>
<text transform="translate(606.05 213.3) scale(0.943 1)" text-anchor="middle" class="lgs">u</text>
<text transform="translate(619.45 213.3) scale(1.000 1)" text-anchor="middle" class="lgs">I</text>
<text transform="translate(626.15 213.3) scale(1.000 1)" text-anchor="middle" class="lgs">s</text>
<text transform="translate(632.85 213.3) scale(1.000 1)" text-anchor="middle" class="lgs">l</text>
<text transform="translate(639.55 213.3) scale(1.000 1)" text-anchor="middle" class="lgs">a</text>
<text transform="translate(646.25 213.3) scale(0.943 1)" text-anchor="middle" class="lgs">n</text>
<text transform="translate(652.95 213.3) scale(0.943 1)" text-anchor="middle" class="lgs">d</text>
</svg>
</body></html>
